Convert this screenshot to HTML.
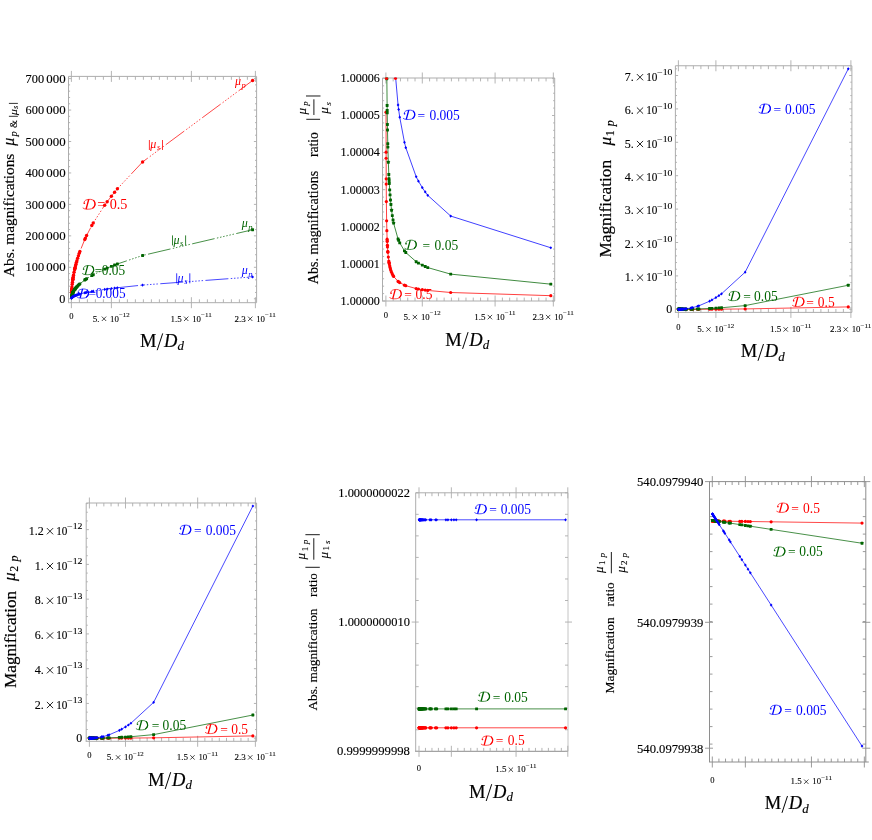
<!DOCTYPE html><html><head><meta charset="utf-8"><style>html,body{margin:0;padding:0;background:#fff}svg{display:block}</style></head><body><svg width="872" height="840" viewBox="0 0 872 840" style="will-change:transform">
<rect width="872" height="840" fill="#fff"/>
<path d="M68.5 76.4H256.6M68.5 76.4V302.7" stroke="#adadad" stroke-width="1" fill="none"/>
<path d="M68.0 302.7H256.6" stroke="#adadad" stroke-width="1" fill="none"/>
<path d="M256.6 76.4V302.7" stroke="#adadad" stroke-width="1" fill="none"/>
<path d="M71.40 70.9V81.9M71.40 297.2V308.2M79.40 76.4V79.80000000000001M79.40 299.3V302.7M87.40 76.4V79.80000000000001M87.40 299.3V302.7M95.40 76.4V79.80000000000001M95.40 299.3V302.7M103.40 76.4V79.80000000000001M103.40 299.3V302.7M111.40 70.9V81.9M111.40 297.2V308.2M119.40 76.4V79.80000000000001M119.40 299.3V302.7M127.40 76.4V79.80000000000001M127.40 299.3V302.7M135.40 76.4V79.80000000000001M135.40 299.3V302.7M143.40 76.4V79.80000000000001M143.40 299.3V302.7M151.40 76.4V79.80000000000001M151.40 299.3V302.7M159.40 76.4V79.80000000000001M159.40 299.3V302.7M167.40 76.4V79.80000000000001M167.40 299.3V302.7M175.40 76.4V79.80000000000001M175.40 299.3V302.7M183.40 76.4V79.80000000000001M183.40 299.3V302.7M191.40 70.9V81.9M191.40 297.2V308.2M199.40 76.4V79.80000000000001M199.40 299.3V302.7M207.40 76.4V79.80000000000001M207.40 299.3V302.7M215.40 76.4V79.80000000000001M215.40 299.3V302.7M223.40 76.4V79.80000000000001M223.40 299.3V302.7M231.40 76.4V79.80000000000001M231.40 299.3V302.7M239.40 76.4V79.80000000000001M239.40 299.3V302.7M247.40 76.4V79.80000000000001M247.40 299.3V302.7M255.40 70.9V81.9M255.40 297.2V308.2M68.5 298.75H71.2M253.90000000000003 298.75H256.6M68.5 267.30H71.2M253.90000000000003 267.30H256.6M68.5 235.85H71.2M253.90000000000003 235.85H256.6M68.5 204.40H71.2M253.90000000000003 204.40H256.6M68.5 172.95H71.2M253.90000000000003 172.95H256.6M68.5 141.50H71.2M253.90000000000003 141.50H256.6M68.5 110.05H71.2M253.90000000000003 110.05H256.6M68.5 78.60H71.2M253.90000000000003 78.60H256.6M68.5 292.46H70.1M255.00000000000003 292.46H256.6M68.5 286.17H70.1M255.00000000000003 286.17H256.6M68.5 279.88H70.1M255.00000000000003 279.88H256.6M68.5 273.59H70.1M255.00000000000003 273.59H256.6M68.5 261.01H70.1M255.00000000000003 261.01H256.6M68.5 254.72H70.1M255.00000000000003 254.72H256.6M68.5 248.43H70.1M255.00000000000003 248.43H256.6M68.5 242.14H70.1M255.00000000000003 242.14H256.6M68.5 229.56H70.1M255.00000000000003 229.56H256.6M68.5 223.27H70.1M255.00000000000003 223.27H256.6M68.5 216.98H70.1M255.00000000000003 216.98H256.6M68.5 210.69H70.1M255.00000000000003 210.69H256.6M68.5 198.11H70.1M255.00000000000003 198.11H256.6M68.5 191.82H70.1M255.00000000000003 191.82H256.6M68.5 185.53H70.1M255.00000000000003 185.53H256.6M68.5 179.24H70.1M255.00000000000003 179.24H256.6M68.5 166.66H70.1M255.00000000000003 166.66H256.6M68.5 160.37H70.1M255.00000000000003 160.37H256.6M68.5 154.08H70.1M255.00000000000003 154.08H256.6M68.5 147.79H70.1M255.00000000000003 147.79H256.6M68.5 135.21H70.1M255.00000000000003 135.21H256.6M68.5 128.92H70.1M255.00000000000003 128.92H256.6M68.5 122.63H70.1M255.00000000000003 122.63H256.6M68.5 116.34H70.1M255.00000000000003 116.34H256.6M68.5 103.76H70.1M255.00000000000003 103.76H256.6M68.5 97.47H70.1M255.00000000000003 97.47H256.6M68.5 91.18H70.1M255.00000000000003 91.18H256.6M68.5 84.89H70.1M255.00000000000003 84.89H256.6" stroke="#adadad" stroke-width="0.9" fill="none"/>
<clipPath id="c1"><rect x="68.1" y="76.0" width="188.90000000000003" height="227.1"/></clipPath>
<g clip-path="url(#c1)">
<path d="M71.54 292.60L71.63 290.94L71.65 290.61L71.74 289.24L71.78 288.81L71.92 287.06L72.20 284.25L72.44 282.21L72.74 279.95L72.82 279.46L72.85 279.21L73.05 277.93L73.16 277.26L73.48 275.39L73.57 274.88L74.07 272.27L74.61 269.71L74.84 268.68L74.96 268.16L75.12 267.48L75.56 265.68L75.96 264.13L76.44 262.35L76.92 260.65L77.64 258.25L78.44 255.73L79.24 253.35L79.88 251.53L84.76 239.48L85.40 238.08L86.60 235.53L91.80 225.52L93.24 222.97L104.68 205.21L107.16 201.79L111.40 196.20L114.60 192.18L117.40 188.78L142.60 161.93L252.60 80.49" fill="none" stroke="#ff0000" stroke-width="0.72" stroke-linejoin="round" stroke-dasharray="23 2.4 1.5 1.7 1.5 1.7 1.5 1.7 1.5 1.7 1.5 1.7 1.5 2.4"/>
<circle cx="71.54" cy="292.60" r="1.70" fill="#ff0000"/><circle cx="71.63" cy="290.94" r="1.70" fill="#ff0000"/><circle cx="71.65" cy="290.61" r="1.70" fill="#ff0000"/><circle cx="71.74" cy="289.24" r="1.70" fill="#ff0000"/><circle cx="71.78" cy="288.81" r="1.70" fill="#ff0000"/><circle cx="71.92" cy="287.06" r="1.70" fill="#ff0000"/><circle cx="72.20" cy="284.25" r="1.70" fill="#ff0000"/><circle cx="72.44" cy="282.21" r="1.70" fill="#ff0000"/><circle cx="72.74" cy="279.95" r="1.70" fill="#ff0000"/><circle cx="72.82" cy="279.46" r="1.70" fill="#ff0000"/><circle cx="72.85" cy="279.21" r="1.70" fill="#ff0000"/><circle cx="73.05" cy="277.93" r="1.70" fill="#ff0000"/><circle cx="73.16" cy="277.26" r="1.70" fill="#ff0000"/><circle cx="73.48" cy="275.39" r="1.70" fill="#ff0000"/><circle cx="73.57" cy="274.88" r="1.70" fill="#ff0000"/><circle cx="74.07" cy="272.27" r="1.70" fill="#ff0000"/><circle cx="74.61" cy="269.71" r="1.70" fill="#ff0000"/><circle cx="74.84" cy="268.68" r="1.70" fill="#ff0000"/><circle cx="74.96" cy="268.16" r="1.70" fill="#ff0000"/><circle cx="75.12" cy="267.48" r="1.70" fill="#ff0000"/><circle cx="75.56" cy="265.68" r="1.70" fill="#ff0000"/><circle cx="75.96" cy="264.13" r="1.70" fill="#ff0000"/><circle cx="76.44" cy="262.35" r="1.70" fill="#ff0000"/><circle cx="76.92" cy="260.65" r="1.70" fill="#ff0000"/><circle cx="77.64" cy="258.25" r="1.70" fill="#ff0000"/><circle cx="78.44" cy="255.73" r="1.70" fill="#ff0000"/><circle cx="79.24" cy="253.35" r="1.70" fill="#ff0000"/><circle cx="79.88" cy="251.53" r="1.70" fill="#ff0000"/><circle cx="84.76" cy="239.48" r="1.70" fill="#ff0000"/><circle cx="85.40" cy="238.08" r="1.70" fill="#ff0000"/><circle cx="86.60" cy="235.53" r="1.70" fill="#ff0000"/><circle cx="91.80" cy="225.52" r="1.70" fill="#ff0000"/><circle cx="93.24" cy="222.97" r="1.70" fill="#ff0000"/><circle cx="104.68" cy="205.21" r="1.70" fill="#ff0000"/><circle cx="107.16" cy="201.79" r="1.70" fill="#ff0000"/><circle cx="111.40" cy="196.20" r="1.70" fill="#ff0000"/><circle cx="114.60" cy="192.18" r="1.70" fill="#ff0000"/><circle cx="117.40" cy="188.78" r="1.70" fill="#ff0000"/><circle cx="142.60" cy="161.93" r="1.70" fill="#ff0000"/><circle cx="252.60" cy="80.49" r="1.70" fill="#ff0000"/>
<path d="M71.54 296.80L71.63 296.28L71.65 296.18L71.74 295.74L71.78 295.61L71.92 295.05L72.20 294.16L72.44 293.52L72.74 292.81L72.82 292.65L72.85 292.57L73.05 292.17L73.16 291.96L73.48 291.36L73.57 291.20L74.07 290.37L74.61 289.57L74.84 289.24L74.96 289.08L75.12 288.86L75.56 288.29L75.96 287.80L76.44 287.24L76.92 286.70L77.64 285.94L78.44 285.15L79.24 284.39L79.88 283.82L84.76 280.01L85.40 279.56L86.60 278.76L91.80 275.59L93.24 274.79L104.68 269.17L107.16 268.09L111.40 266.32L114.60 265.05L117.40 263.97L142.60 255.48L252.60 229.73" fill="none" stroke="#006400" stroke-width="0.72" stroke-linejoin="round" stroke-dasharray="23 2.4 1.5 1.7 1.5 1.7 1.5 1.7 1.5 1.7 1.5 1.7 1.5 2.4"/>
<rect x="70.10" y="295.36" width="2.88" height="2.88" rx="0.4" fill="#006400"/><rect x="70.19" y="294.84" width="2.88" height="2.88" rx="0.4" fill="#006400"/><rect x="70.21" y="294.74" width="2.88" height="2.88" rx="0.4" fill="#006400"/><rect x="70.30" y="294.30" width="2.88" height="2.88" rx="0.4" fill="#006400"/><rect x="70.34" y="294.17" width="2.88" height="2.88" rx="0.4" fill="#006400"/><rect x="70.48" y="293.61" width="2.88" height="2.88" rx="0.4" fill="#006400"/><rect x="70.76" y="292.72" width="2.88" height="2.88" rx="0.4" fill="#006400"/><rect x="71.00" y="292.08" width="2.88" height="2.88" rx="0.4" fill="#006400"/><rect x="71.30" y="291.37" width="2.88" height="2.88" rx="0.4" fill="#006400"/><rect x="71.38" y="291.21" width="2.88" height="2.88" rx="0.4" fill="#006400"/><rect x="71.41" y="291.13" width="2.88" height="2.88" rx="0.4" fill="#006400"/><rect x="71.61" y="290.73" width="2.88" height="2.88" rx="0.4" fill="#006400"/><rect x="71.72" y="290.52" width="2.88" height="2.88" rx="0.4" fill="#006400"/><rect x="72.04" y="289.92" width="2.88" height="2.88" rx="0.4" fill="#006400"/><rect x="72.13" y="289.76" width="2.88" height="2.88" rx="0.4" fill="#006400"/><rect x="72.63" y="288.93" width="2.88" height="2.88" rx="0.4" fill="#006400"/><rect x="73.17" y="288.13" width="2.88" height="2.88" rx="0.4" fill="#006400"/><rect x="73.40" y="287.80" width="2.88" height="2.88" rx="0.4" fill="#006400"/><rect x="73.52" y="287.64" width="2.88" height="2.88" rx="0.4" fill="#006400"/><rect x="73.68" y="287.42" width="2.88" height="2.88" rx="0.4" fill="#006400"/><rect x="74.12" y="286.85" width="2.88" height="2.88" rx="0.4" fill="#006400"/><rect x="74.52" y="286.36" width="2.88" height="2.88" rx="0.4" fill="#006400"/><rect x="75.00" y="285.80" width="2.88" height="2.88" rx="0.4" fill="#006400"/><rect x="75.48" y="285.26" width="2.88" height="2.88" rx="0.4" fill="#006400"/><rect x="76.20" y="284.50" width="2.88" height="2.88" rx="0.4" fill="#006400"/><rect x="77.00" y="283.71" width="2.88" height="2.88" rx="0.4" fill="#006400"/><rect x="77.80" y="282.95" width="2.88" height="2.88" rx="0.4" fill="#006400"/><rect x="78.44" y="282.38" width="2.88" height="2.88" rx="0.4" fill="#006400"/><rect x="83.32" y="278.57" width="2.88" height="2.88" rx="0.4" fill="#006400"/><rect x="83.96" y="278.12" width="2.88" height="2.88" rx="0.4" fill="#006400"/><rect x="85.16" y="277.32" width="2.88" height="2.88" rx="0.4" fill="#006400"/><rect x="90.36" y="274.15" width="2.88" height="2.88" rx="0.4" fill="#006400"/><rect x="91.80" y="273.35" width="2.88" height="2.88" rx="0.4" fill="#006400"/><rect x="103.24" y="267.73" width="2.88" height="2.88" rx="0.4" fill="#006400"/><rect x="105.72" y="266.65" width="2.88" height="2.88" rx="0.4" fill="#006400"/><rect x="109.96" y="264.88" width="2.88" height="2.88" rx="0.4" fill="#006400"/><rect x="113.16" y="263.61" width="2.88" height="2.88" rx="0.4" fill="#006400"/><rect x="115.96" y="262.53" width="2.88" height="2.88" rx="0.4" fill="#006400"/><rect x="141.16" y="254.04" width="2.88" height="2.88" rx="0.4" fill="#006400"/><rect x="251.16" y="228.29" width="2.88" height="2.88" rx="0.4" fill="#006400"/>
<path d="M71.54 298.13L71.63 297.97L71.65 297.94L71.74 297.80L71.78 297.76L71.92 297.58L72.20 297.30L72.44 297.10L72.74 296.87L72.82 296.82L72.85 296.80L73.05 296.67L73.16 296.60L73.48 296.41L73.57 296.36L74.07 296.10L74.61 295.85L74.84 295.74L74.96 295.69L75.12 295.62L75.56 295.44L75.96 295.29L76.44 295.11L76.92 294.94L77.64 294.70L78.44 294.45L79.24 294.21L79.88 294.03L84.76 292.82L85.40 292.68L86.60 292.43L91.80 291.43L93.24 291.17L104.68 289.40L107.16 289.05L111.40 288.50L114.60 288.09L117.40 287.75L142.60 285.07L252.60 276.92" fill="none" stroke="#0000ff" stroke-width="0.72" stroke-linejoin="round" stroke-dasharray="23 2.4 1.5 1.7 1.5 1.7 1.5 1.7 1.5 1.7 1.5 1.7 1.5 2.4"/>
<path d="M71.54 296.52L72.91 298.13L71.54 299.74L70.18 298.13Z" fill="#0000ff"/><path d="M71.63 296.36L73.00 297.97L71.63 299.58L70.26 297.97Z" fill="#0000ff"/><path d="M71.65 296.33L73.02 297.94L71.65 299.55L70.28 297.94Z" fill="#0000ff"/><path d="M71.74 296.19L73.11 297.80L71.74 299.41L70.38 297.80Z" fill="#0000ff"/><path d="M71.78 296.15L73.14 297.76L71.78 299.37L70.41 297.76Z" fill="#0000ff"/><path d="M71.92 295.97L73.29 297.58L71.92 299.19L70.55 297.58Z" fill="#0000ff"/><path d="M72.20 295.69L73.57 297.30L72.20 298.91L70.83 297.30Z" fill="#0000ff"/><path d="M72.44 295.49L73.81 297.10L72.44 298.71L71.07 297.10Z" fill="#0000ff"/><path d="M72.74 295.26L74.11 296.87L72.74 298.48L71.38 296.87Z" fill="#0000ff"/><path d="M72.82 295.21L74.18 296.82L72.82 298.43L71.45 296.82Z" fill="#0000ff"/><path d="M72.85 295.19L74.22 296.80L72.85 298.41L71.48 296.80Z" fill="#0000ff"/><path d="M73.05 295.06L74.42 296.67L73.05 298.28L71.68 296.67Z" fill="#0000ff"/><path d="M73.16 294.99L74.52 296.60L73.16 298.21L71.79 296.60Z" fill="#0000ff"/><path d="M73.48 294.80L74.84 296.41L73.48 298.02L72.11 296.41Z" fill="#0000ff"/><path d="M73.57 294.75L74.94 296.36L73.57 297.97L72.20 296.36Z" fill="#0000ff"/><path d="M74.07 294.49L75.44 296.10L74.07 297.71L72.70 296.10Z" fill="#0000ff"/><path d="M74.61 294.24L75.98 295.85L74.61 297.46L73.24 295.85Z" fill="#0000ff"/><path d="M74.84 294.13L76.21 295.74L74.84 297.35L73.47 295.74Z" fill="#0000ff"/><path d="M74.96 294.08L76.33 295.69L74.96 297.30L73.59 295.69Z" fill="#0000ff"/><path d="M75.12 294.01L76.49 295.62L75.12 297.23L73.75 295.62Z" fill="#0000ff"/><path d="M75.56 293.83L76.93 295.44L75.56 297.05L74.19 295.44Z" fill="#0000ff"/><path d="M75.96 293.68L77.33 295.29L75.96 296.90L74.59 295.29Z" fill="#0000ff"/><path d="M76.44 293.50L77.81 295.11L76.44 296.72L75.07 295.11Z" fill="#0000ff"/><path d="M76.92 293.33L78.29 294.94L76.92 296.55L75.55 294.94Z" fill="#0000ff"/><path d="M77.64 293.09L79.01 294.70L77.64 296.31L76.27 294.70Z" fill="#0000ff"/><path d="M78.44 292.84L79.81 294.45L78.44 296.06L77.07 294.45Z" fill="#0000ff"/><path d="M79.24 292.60L80.61 294.21L79.24 295.82L77.87 294.21Z" fill="#0000ff"/><path d="M79.88 292.42L81.25 294.03L79.88 295.64L78.51 294.03Z" fill="#0000ff"/><path d="M84.76 291.21L86.13 292.82L84.76 294.43L83.39 292.82Z" fill="#0000ff"/><path d="M85.40 291.07L86.77 292.68L85.40 294.29L84.03 292.68Z" fill="#0000ff"/><path d="M86.60 290.82L87.97 292.43L86.60 294.04L85.23 292.43Z" fill="#0000ff"/><path d="M91.80 289.82L93.17 291.43L91.80 293.04L90.43 291.43Z" fill="#0000ff"/><path d="M93.24 289.56L94.61 291.17L93.24 292.78L91.87 291.17Z" fill="#0000ff"/><path d="M104.68 287.79L106.05 289.40L104.68 291.01L103.31 289.40Z" fill="#0000ff"/><path d="M107.16 287.44L108.53 289.05L107.16 290.66L105.79 289.05Z" fill="#0000ff"/><path d="M111.40 286.89L112.77 288.50L111.40 290.11L110.03 288.50Z" fill="#0000ff"/><path d="M114.60 286.48L115.97 288.09L114.60 289.70L113.23 288.09Z" fill="#0000ff"/><path d="M117.40 286.14L118.77 287.75L117.40 289.36L116.03 287.75Z" fill="#0000ff"/><path d="M142.60 283.46L143.97 285.07L142.60 286.68L141.23 285.07Z" fill="#0000ff"/><path d="M252.60 275.31L253.97 276.92L252.60 278.53L251.23 276.92Z" fill="#0000ff"/>
</g>
<text x="65.30" y="302.85" font-size="12.2" text-anchor="end" fill="#000" stroke="#000" stroke-width="0.134" font-family="Liberation Serif, serif">0</text>
<text x="65.60" y="271.40" font-size="12.2" text-anchor="end" fill="#000" stroke="#000" stroke-width="0.134" font-family="Liberation Serif, serif" textLength="19.30" lengthAdjust="spacingAndGlyphs">000</text>
<text x="44.10" y="271.40" font-size="12.2" text-anchor="end" fill="#000" stroke="#000" stroke-width="0.134" font-family="Liberation Serif, serif" textLength="18.50" lengthAdjust="spacingAndGlyphs">100</text>
<text x="65.60" y="239.95" font-size="12.2" text-anchor="end" fill="#000" stroke="#000" stroke-width="0.134" font-family="Liberation Serif, serif" textLength="19.30" lengthAdjust="spacingAndGlyphs">000</text>
<text x="44.10" y="239.95" font-size="12.2" text-anchor="end" fill="#000" stroke="#000" stroke-width="0.134" font-family="Liberation Serif, serif" textLength="18.50" lengthAdjust="spacingAndGlyphs">200</text>
<text x="65.60" y="208.50" font-size="12.2" text-anchor="end" fill="#000" stroke="#000" stroke-width="0.134" font-family="Liberation Serif, serif" textLength="19.30" lengthAdjust="spacingAndGlyphs">000</text>
<text x="44.10" y="208.50" font-size="12.2" text-anchor="end" fill="#000" stroke="#000" stroke-width="0.134" font-family="Liberation Serif, serif" textLength="18.50" lengthAdjust="spacingAndGlyphs">300</text>
<text x="65.60" y="177.05" font-size="12.2" text-anchor="end" fill="#000" stroke="#000" stroke-width="0.134" font-family="Liberation Serif, serif" textLength="19.30" lengthAdjust="spacingAndGlyphs">000</text>
<text x="44.10" y="177.05" font-size="12.2" text-anchor="end" fill="#000" stroke="#000" stroke-width="0.134" font-family="Liberation Serif, serif" textLength="18.50" lengthAdjust="spacingAndGlyphs">400</text>
<text x="65.60" y="145.60" font-size="12.2" text-anchor="end" fill="#000" stroke="#000" stroke-width="0.134" font-family="Liberation Serif, serif" textLength="19.30" lengthAdjust="spacingAndGlyphs">000</text>
<text x="44.10" y="145.60" font-size="12.2" text-anchor="end" fill="#000" stroke="#000" stroke-width="0.134" font-family="Liberation Serif, serif" textLength="18.50" lengthAdjust="spacingAndGlyphs">500</text>
<text x="65.60" y="114.15" font-size="12.2" text-anchor="end" fill="#000" stroke="#000" stroke-width="0.134" font-family="Liberation Serif, serif" textLength="19.30" lengthAdjust="spacingAndGlyphs">000</text>
<text x="44.10" y="114.15" font-size="12.2" text-anchor="end" fill="#000" stroke="#000" stroke-width="0.134" font-family="Liberation Serif, serif" textLength="18.50" lengthAdjust="spacingAndGlyphs">600</text>
<text x="65.60" y="82.70" font-size="12.2" text-anchor="end" fill="#000" stroke="#000" stroke-width="0.134" font-family="Liberation Serif, serif" textLength="19.30" lengthAdjust="spacingAndGlyphs">000</text>
<text x="44.10" y="82.70" font-size="12.2" text-anchor="end" fill="#000" stroke="#000" stroke-width="0.134" font-family="Liberation Serif, serif" textLength="18.50" lengthAdjust="spacingAndGlyphs">700</text>
<text x="71.40" y="319.40" font-size="8.549999999999999" text-anchor="middle" fill="#000" stroke="#000" stroke-width="0.094" font-family="Liberation Serif, serif">0</text><text x="92.70" y="321.50" font-size="9.0" text-anchor="start" fill="#000" stroke="#000" stroke-width="0.099" font-family="Liberation Serif, serif">5.</text><path d="M101.80 316.60L106.20 321.00M101.80 321.00L106.20 316.60" stroke="#000" stroke-width="0.7" fill="none"/><text x="110.00" y="321.50" font-size="9.0" text-anchor="start" fill="#000" stroke="#000" stroke-width="0.099" font-family="Liberation Serif, serif" textLength="8.80" lengthAdjust="spacingAndGlyphs">10</text><text x="118.90" y="317.10" font-size="6.4799999999999995" text-anchor="start" fill="#000" stroke="#000" stroke-width="0.071" font-family="Liberation Serif, serif" textLength="10.80" lengthAdjust="spacingAndGlyphs">−12</text><text x="170.50" y="321.50" font-size="9.0" text-anchor="start" fill="#000" stroke="#000" stroke-width="0.099" font-family="Liberation Serif, serif">1.5</text><path d="M184.00 316.60L188.40 321.00M184.00 321.00L188.40 316.60" stroke="#000" stroke-width="0.7" fill="none"/><text x="192.20" y="321.50" font-size="9.0" text-anchor="start" fill="#000" stroke="#000" stroke-width="0.099" font-family="Liberation Serif, serif" textLength="8.80" lengthAdjust="spacingAndGlyphs">10</text><text x="201.10" y="317.10" font-size="6.4799999999999995" text-anchor="start" fill="#000" stroke="#000" stroke-width="0.071" font-family="Liberation Serif, serif" textLength="10.80" lengthAdjust="spacingAndGlyphs">−11</text><text x="234.50" y="321.50" font-size="9.0" text-anchor="start" fill="#000" stroke="#000" stroke-width="0.099" font-family="Liberation Serif, serif">2.3</text><path d="M248.00 316.60L252.40 321.00M248.00 321.00L252.40 316.60" stroke="#000" stroke-width="0.7" fill="none"/><text x="256.20" y="321.50" font-size="9.0" text-anchor="start" fill="#000" stroke="#000" stroke-width="0.099" font-family="Liberation Serif, serif" textLength="8.80" lengthAdjust="spacingAndGlyphs">10</text><text x="265.10" y="317.10" font-size="6.4799999999999995" text-anchor="start" fill="#000" stroke="#000" stroke-width="0.071" font-family="Liberation Serif, serif" textLength="10.80" lengthAdjust="spacingAndGlyphs">−11</text>
<text x="139.90" y="346.80" font-size="18.5" text-anchor="start" fill="#000" stroke="#000" stroke-width="0.203" font-family="Liberation Serif, serif">M</text><path d="M157.20 350.20L162.70 333.40" stroke="#000" stroke-width="1.0" fill="none"/><text x="163.90" y="346.80" font-size="18.5" text-anchor="start" fill="#000" stroke="#000" stroke-width="0.203" font-family="Liberation Serif, serif" font-style="italic">D</text><text x="177.40" y="349.90" font-size="12.9" text-anchor="start" fill="#000" stroke="#000" stroke-width="0.142" font-family="Liberation Serif, serif" font-style="italic">d</text>
<g transform="translate(14 277) rotate(-90)"><text x="0.00" y="0.00" font-size="15.3" text-anchor="start" fill="#000" stroke="#000" stroke-width="0.168" font-family="Liberation Serif, serif" textLength="123.30" lengthAdjust="spacingAndGlyphs">Abs. magnifications</text><text x="131.30" y="0.30" font-size="16" text-anchor="start" fill="#000" stroke="#000" stroke-width="0.176" font-family="Liberation Serif, serif" font-style="italic">μ</text><text x="140.60" y="2.80" font-size="10.5" text-anchor="start" fill="#000" stroke="#000" stroke-width="0.115" font-family="Liberation Serif, serif" font-style="italic">p</text><text x="149.00" y="2.80" font-size="10.2" text-anchor="start" fill="#000" stroke="#000" stroke-width="0.112" font-family="Liberation Serif, serif">&amp;</text><path d="M160.70 -5.10L160.70 3.90" stroke="#000" stroke-width="0.8" fill="none"/><text x="161.80" y="2.80" font-size="10" text-anchor="start" fill="#000" stroke="#000" stroke-width="0.110" font-family="Liberation Serif, serif" font-style="italic" textLength="6.20" lengthAdjust="spacingAndGlyphs">μ</text><text x="168.00" y="3.90" font-size="8.5" text-anchor="start" fill="#000" stroke="#000" stroke-width="0.093" font-family="Liberation Serif, serif" font-style="italic">s</text><path d="M173.60 -5.10L173.60 3.90" stroke="#000" stroke-width="0.8" fill="none"/></g>
<g transform="translate(83.10 209.30) scale(0.0142)" fill="none" stroke="#ff0000" stroke-linecap="round" stroke-linejoin="round"><path d="M 70 -430 C 40 -540 130 -640 264 -672 C 350 -695 440 -705 519 -700 C 680 -690 810 -600 838 -420 C 860 -280 790 -130 650 -60 C 560 -15 400 0 250 -10 C 150 -15 50 -40 -5 -85" stroke-width="52"/><path d="M 388 -668 L 222 -55" stroke-width="98"/><path d="M 745 -625 C 820 -540 850 -420 838 -330 C 825 -250 780 -160 690 -90" stroke-width="92"/><circle cx="78" cy="-425" r="28" fill="#ff0000" stroke-width="40"/></g><text x="97.25" y="209.30" font-size="14.2" text-anchor="start" fill="#ff0000" font-family="Liberation Serif, serif">=</text><text x="109.65" y="209.30" font-size="14.91" text-anchor="start" fill="#ff0000" font-family="Liberation Serif, serif" textLength="17.75" lengthAdjust="spacingAndGlyphs">0.5</text>
<g transform="translate(82.50 274.80) scale(0.0133)" fill="none" stroke="#006400" stroke-linecap="round" stroke-linejoin="round"><path d="M 70 -430 C 40 -540 130 -640 264 -672 C 350 -695 440 -705 519 -700 C 680 -690 810 -600 838 -420 C 860 -280 790 -130 650 -60 C 560 -15 400 0 250 -10 C 150 -15 50 -40 -5 -85" stroke-width="52"/><path d="M 388 -668 L 222 -55" stroke-width="98"/><path d="M 745 -625 C 820 -540 850 -420 838 -330 C 825 -250 780 -160 690 -90" stroke-width="92"/><circle cx="78" cy="-425" r="28" fill="#006400" stroke-width="40"/></g><text x="94.65" y="274.80" font-size="13.3" text-anchor="start" fill="#006400" font-family="Liberation Serif, serif">=</text><text x="101.85" y="274.80" font-size="13.965000000000002" text-anchor="start" fill="#006400" font-family="Liberation Serif, serif" textLength="23.28" lengthAdjust="spacingAndGlyphs">0.05</text>
<g transform="translate(77.30 298.30) scale(0.0133)" fill="none" stroke="#0000ff" stroke-linecap="round" stroke-linejoin="round"><path d="M 70 -430 C 40 -540 130 -640 264 -672 C 350 -695 440 -705 519 -700 C 680 -690 810 -600 838 -420 C 860 -280 790 -130 650 -60 C 560 -15 400 0 250 -10 C 150 -15 50 -40 -5 -85" stroke-width="52"/><path d="M 388 -668 L 222 -55" stroke-width="98"/><path d="M 745 -625 C 820 -540 850 -420 838 -330 C 825 -250 780 -160 690 -90" stroke-width="92"/><circle cx="78" cy="-425" r="28" fill="#0000ff" stroke-width="40"/></g><text x="88.45" y="298.30" font-size="13.3" text-anchor="start" fill="#0000ff" font-family="Liberation Serif, serif">=</text><text x="95.65" y="298.30" font-size="13.965000000000002" text-anchor="start" fill="#0000ff" font-family="Liberation Serif, serif" textLength="29.93" lengthAdjust="spacingAndGlyphs">0.005</text>
<path d="M149.40 140.00L149.40 150.00" stroke="#ff0000" stroke-width="0.8" fill="none"/><text x="150.30" y="148.40" font-size="12" text-anchor="start" fill="#ff0000" font-family="Liberation Serif, serif" font-style="italic">μ</text><text x="157.00" y="150.30" font-size="8.5" text-anchor="start" fill="#ff0000" font-family="Liberation Serif, serif" font-style="italic">s</text><path d="M162.50 140.00L162.50 150.00" stroke="#ff0000" stroke-width="0.8" fill="none"/>
<path d="M172.50 235.40L172.50 245.40" stroke="#006400" stroke-width="0.8" fill="none"/><text x="173.40" y="243.80" font-size="12" text-anchor="start" fill="#006400" font-family="Liberation Serif, serif" font-style="italic">μ</text><text x="180.10" y="245.70" font-size="8.5" text-anchor="start" fill="#006400" font-family="Liberation Serif, serif" font-style="italic">s</text><path d="M185.60 235.40L185.60 245.40" stroke="#006400" stroke-width="0.8" fill="none"/>
<path d="M176.70 273.30L176.70 283.30" stroke="#0000ff" stroke-width="0.8" fill="none"/><text x="177.60" y="281.70" font-size="12" text-anchor="start" fill="#0000ff" font-family="Liberation Serif, serif" font-style="italic">μ</text><text x="184.30" y="283.60" font-size="8.5" text-anchor="start" fill="#0000ff" font-family="Liberation Serif, serif" font-style="italic">s</text><path d="M189.80 273.30L189.80 283.30" stroke="#0000ff" stroke-width="0.8" fill="none"/>
<text x="235.10" y="85.30" font-size="12" text-anchor="start" fill="#ff0000" font-family="Liberation Serif, serif" font-style="italic">μ</text><text x="241.50" y="87.90" font-size="8.5" text-anchor="start" fill="#ff0000" font-family="Liberation Serif, serif" font-style="italic">p</text>
<text x="241.80" y="227.20" font-size="12" text-anchor="start" fill="#006400" font-family="Liberation Serif, serif" font-style="italic">μ</text><text x="248.20" y="229.80" font-size="8.5" text-anchor="start" fill="#006400" font-family="Liberation Serif, serif" font-style="italic">p</text>
<text x="241.80" y="274.10" font-size="12" text-anchor="start" fill="#0000ff" font-family="Liberation Serif, serif" font-style="italic">μ</text><text x="248.20" y="276.70" font-size="8.5" text-anchor="start" fill="#0000ff" font-family="Liberation Serif, serif" font-style="italic">p</text>
<path d="M382.5 78H554.7M382.5 78V301" stroke="#adadad" stroke-width="1" fill="none"/>
<path d="M382.0 301H554.7" stroke="#adadad" stroke-width="1" fill="none"/>
<path d="M554.7 78V301" stroke="#adadad" stroke-width="1" fill="none"/>
<path d="M385.90 72.5V83.5M385.90 295.5V306.5M393.18 78V81.4M393.18 297.6V301M400.46 78V81.4M400.46 297.6V301M407.74 78V81.4M407.74 297.6V301M415.02 78V81.4M415.02 297.6V301M422.30 72.5V83.5M422.30 295.5V306.5M429.58 78V81.4M429.58 297.6V301M436.86 78V81.4M436.86 297.6V301M444.14 78V81.4M444.14 297.6V301M451.42 78V81.4M451.42 297.6V301M458.70 78V81.4M458.70 297.6V301M465.98 78V81.4M465.98 297.6V301M473.26 78V81.4M473.26 297.6V301M480.54 78V81.4M480.54 297.6V301M487.82 78V81.4M487.82 297.6V301M495.10 72.5V83.5M495.10 295.5V306.5M502.38 78V81.4M502.38 297.6V301M509.66 78V81.4M509.66 297.6V301M516.94 78V81.4M516.94 297.6V301M524.22 78V81.4M524.22 297.6V301M531.50 78V81.4M531.50 297.6V301M538.78 78V81.4M538.78 297.6V301M546.06 78V81.4M546.06 297.6V301M553.34 72.5V83.5M553.34 295.5V306.5M382.5 301.00H385.2M552.0 301.00H554.7M382.5 263.90H385.2M552.0 263.90H554.7M382.5 226.80H385.2M552.0 226.80H554.7M382.5 189.70H385.2M552.0 189.70H554.7M382.5 152.60H385.2M552.0 152.60H554.7M382.5 115.50H385.2M552.0 115.50H554.7M382.5 78.40H385.2M552.0 78.40H554.7M382.5 293.58H384.1M553.1 293.58H554.7M382.5 286.16H384.1M553.1 286.16H554.7M382.5 278.74H384.1M553.1 278.74H554.7M382.5 271.32H384.1M553.1 271.32H554.7M382.5 256.48H384.1M553.1 256.48H554.7M382.5 249.06H384.1M553.1 249.06H554.7M382.5 241.64H384.1M553.1 241.64H554.7M382.5 234.22H384.1M553.1 234.22H554.7M382.5 219.38H384.1M553.1 219.38H554.7M382.5 211.96H384.1M553.1 211.96H554.7M382.5 204.54H384.1M553.1 204.54H554.7M382.5 197.12H384.1M553.1 197.12H554.7M382.5 182.28H384.1M553.1 182.28H554.7M382.5 174.86H384.1M553.1 174.86H554.7M382.5 167.44H384.1M553.1 167.44H554.7M382.5 160.02H384.1M553.1 160.02H554.7M382.5 145.18H384.1M553.1 145.18H554.7M382.5 137.76H384.1M553.1 137.76H554.7M382.5 130.34H384.1M553.1 130.34H554.7M382.5 122.92H384.1M553.1 122.92H554.7M382.5 108.08H384.1M553.1 108.08H554.7M382.5 100.66H384.1M553.1 100.66H554.7M382.5 93.24H384.1M553.1 93.24H554.7M382.5 85.82H384.1M553.1 85.82H554.7" stroke="#adadad" stroke-width="0.9" fill="none"/>
<clipPath id="c2"><rect x="382.1" y="77.6" width="173.00000000000006" height="223.8"/></clipPath>
<g clip-path="url(#c2)">
<path d="M386.03 112.13L386.11 152.20L386.13 158.23L386.21 178.80L386.24 184.12L386.37 201.61L386.63 220.87L386.85 230.72L387.12 239.18L387.19 240.77L387.22 241.52L387.40 245.17L387.50 246.91L387.79 251.26L387.87 252.32L388.33 257.12L388.82 260.99L389.03 262.36L389.14 263.01L389.29 263.84L389.69 265.86L390.05 267.44L390.49 269.08L390.92 270.50L391.58 272.31L392.31 273.99L393.03 275.40L393.62 276.39L398.06 281.39L398.64 281.85L399.73 282.62L404.46 285.13L405.77 285.66L416.18 288.58L418.44 289.01L422.30 289.67L425.21 290.10L427.76 290.43L450.69 292.51L550.79 295.68" fill="none" stroke="#ff0000" stroke-width="0.75" stroke-linejoin="round"/>
<circle cx="386.03" cy="112.13" r="1.60" fill="#ff0000"/><circle cx="386.11" cy="152.20" r="1.60" fill="#ff0000"/><circle cx="386.13" cy="158.23" r="1.60" fill="#ff0000"/><circle cx="386.21" cy="178.80" r="1.60" fill="#ff0000"/><circle cx="386.24" cy="184.12" r="1.60" fill="#ff0000"/><circle cx="386.37" cy="201.61" r="1.60" fill="#ff0000"/><circle cx="386.63" cy="220.87" r="1.60" fill="#ff0000"/><circle cx="386.85" cy="230.72" r="1.60" fill="#ff0000"/><circle cx="387.12" cy="239.18" r="1.60" fill="#ff0000"/><circle cx="387.19" cy="240.77" r="1.60" fill="#ff0000"/><circle cx="387.22" cy="241.52" r="1.60" fill="#ff0000"/><circle cx="387.40" cy="245.17" r="1.60" fill="#ff0000"/><circle cx="387.50" cy="246.91" r="1.60" fill="#ff0000"/><circle cx="387.79" cy="251.26" r="1.60" fill="#ff0000"/><circle cx="387.87" cy="252.32" r="1.60" fill="#ff0000"/><circle cx="388.33" cy="257.12" r="1.60" fill="#ff0000"/><circle cx="388.82" cy="260.99" r="1.60" fill="#ff0000"/><circle cx="389.03" cy="262.36" r="1.60" fill="#ff0000"/><circle cx="389.14" cy="263.01" r="1.60" fill="#ff0000"/><circle cx="389.29" cy="263.84" r="1.60" fill="#ff0000"/><circle cx="389.69" cy="265.86" r="1.60" fill="#ff0000"/><circle cx="390.05" cy="267.44" r="1.60" fill="#ff0000"/><circle cx="390.49" cy="269.08" r="1.60" fill="#ff0000"/><circle cx="390.92" cy="270.50" r="1.60" fill="#ff0000"/><circle cx="391.58" cy="272.31" r="1.60" fill="#ff0000"/><circle cx="392.31" cy="273.99" r="1.60" fill="#ff0000"/><circle cx="393.03" cy="275.40" r="1.60" fill="#ff0000"/><circle cx="393.62" cy="276.39" r="1.60" fill="#ff0000"/><circle cx="398.06" cy="281.39" r="1.60" fill="#ff0000"/><circle cx="398.64" cy="281.85" r="1.60" fill="#ff0000"/><circle cx="399.73" cy="282.62" r="1.60" fill="#ff0000"/><circle cx="404.46" cy="285.13" r="1.60" fill="#ff0000"/><circle cx="405.77" cy="285.66" r="1.60" fill="#ff0000"/><circle cx="416.18" cy="288.58" r="1.60" fill="#ff0000"/><circle cx="418.44" cy="289.01" r="1.60" fill="#ff0000"/><circle cx="422.30" cy="289.67" r="1.60" fill="#ff0000"/><circle cx="425.21" cy="290.10" r="1.60" fill="#ff0000"/><circle cx="427.76" cy="290.43" r="1.60" fill="#ff0000"/><circle cx="450.69" cy="292.51" r="1.60" fill="#ff0000"/><circle cx="550.79" cy="295.68" r="1.60" fill="#ff0000"/>
<path d="M386.63 47.61L386.85 78.76L387.12 105.50L387.19 110.54L387.22 112.91L387.40 124.45L387.50 129.97L387.79 143.70L387.87 147.07L388.33 162.25L388.82 174.46L389.03 178.80L389.14 180.88L389.29 183.49L389.69 189.88L390.05 194.87L390.49 200.05L390.92 204.53L391.58 210.27L392.31 215.58L393.03 220.06L393.62 223.17L398.06 238.99L398.64 240.43L399.73 242.87L404.46 250.82L405.77 252.50L416.18 261.71L418.44 263.10L422.30 265.16L425.21 266.52L427.76 267.58L450.69 274.14L550.79 284.16" fill="none" stroke="#006400" stroke-width="0.75" stroke-linejoin="round"/>
<rect x="385.19" y="46.17" width="2.88" height="2.88" rx="0.4" fill="#006400"/><rect x="385.41" y="77.32" width="2.88" height="2.88" rx="0.4" fill="#006400"/><rect x="385.68" y="104.06" width="2.88" height="2.88" rx="0.4" fill="#006400"/><rect x="385.75" y="109.10" width="2.88" height="2.88" rx="0.4" fill="#006400"/><rect x="385.78" y="111.47" width="2.88" height="2.88" rx="0.4" fill="#006400"/><rect x="385.96" y="123.01" width="2.88" height="2.88" rx="0.4" fill="#006400"/><rect x="386.06" y="128.53" width="2.88" height="2.88" rx="0.4" fill="#006400"/><rect x="386.35" y="142.26" width="2.88" height="2.88" rx="0.4" fill="#006400"/><rect x="386.43" y="145.63" width="2.88" height="2.88" rx="0.4" fill="#006400"/><rect x="386.89" y="160.81" width="2.88" height="2.88" rx="0.4" fill="#006400"/><rect x="387.38" y="173.02" width="2.88" height="2.88" rx="0.4" fill="#006400"/><rect x="387.59" y="177.36" width="2.88" height="2.88" rx="0.4" fill="#006400"/><rect x="387.70" y="179.44" width="2.88" height="2.88" rx="0.4" fill="#006400"/><rect x="387.85" y="182.05" width="2.88" height="2.88" rx="0.4" fill="#006400"/><rect x="388.25" y="188.44" width="2.88" height="2.88" rx="0.4" fill="#006400"/><rect x="388.61" y="193.43" width="2.88" height="2.88" rx="0.4" fill="#006400"/><rect x="389.05" y="198.61" width="2.88" height="2.88" rx="0.4" fill="#006400"/><rect x="389.48" y="203.09" width="2.88" height="2.88" rx="0.4" fill="#006400"/><rect x="390.14" y="208.83" width="2.88" height="2.88" rx="0.4" fill="#006400"/><rect x="390.87" y="214.14" width="2.88" height="2.88" rx="0.4" fill="#006400"/><rect x="391.59" y="218.62" width="2.88" height="2.88" rx="0.4" fill="#006400"/><rect x="392.18" y="221.73" width="2.88" height="2.88" rx="0.4" fill="#006400"/><rect x="396.62" y="237.55" width="2.88" height="2.88" rx="0.4" fill="#006400"/><rect x="397.20" y="238.99" width="2.88" height="2.88" rx="0.4" fill="#006400"/><rect x="398.29" y="241.43" width="2.88" height="2.88" rx="0.4" fill="#006400"/><rect x="403.02" y="249.38" width="2.88" height="2.88" rx="0.4" fill="#006400"/><rect x="404.33" y="251.06" width="2.88" height="2.88" rx="0.4" fill="#006400"/><rect x="414.74" y="260.27" width="2.88" height="2.88" rx="0.4" fill="#006400"/><rect x="417.00" y="261.66" width="2.88" height="2.88" rx="0.4" fill="#006400"/><rect x="420.86" y="263.72" width="2.88" height="2.88" rx="0.4" fill="#006400"/><rect x="423.77" y="265.08" width="2.88" height="2.88" rx="0.4" fill="#006400"/><rect x="426.32" y="266.14" width="2.88" height="2.88" rx="0.4" fill="#006400"/><rect x="449.25" y="272.70" width="2.88" height="2.88" rx="0.4" fill="#006400"/><rect x="549.35" y="282.72" width="2.88" height="2.88" rx="0.4" fill="#006400"/>
<path d="M393.62 54.88L398.06 104.92L398.64 109.45L399.73 117.17L404.46 142.32L405.77 147.64L416.18 176.76L418.44 181.15L422.30 187.68L425.21 191.96L427.76 195.33L450.69 216.06L550.79 247.76" fill="none" stroke="#0000ff" stroke-width="0.75" stroke-linejoin="round"/>
<path d="M393.62 53.27L394.99 54.88L393.62 56.49L392.25 54.88Z" fill="#0000ff"/><path d="M398.06 103.31L399.43 104.92L398.06 106.53L396.69 104.92Z" fill="#0000ff"/><path d="M398.64 107.84L400.01 109.45L398.64 111.06L397.27 109.45Z" fill="#0000ff"/><path d="M399.73 115.56L401.10 117.17L399.73 118.78L398.36 117.17Z" fill="#0000ff"/><path d="M404.46 140.71L405.83 142.32L404.46 143.93L403.10 142.32Z" fill="#0000ff"/><path d="M405.77 146.03L407.14 147.64L405.77 149.25L404.41 147.64Z" fill="#0000ff"/><path d="M416.18 175.15L417.55 176.76L416.18 178.37L414.82 176.76Z" fill="#0000ff"/><path d="M418.44 179.54L419.81 181.15L418.44 182.76L417.07 181.15Z" fill="#0000ff"/><path d="M422.30 186.07L423.67 187.68L422.30 189.29L420.93 187.68Z" fill="#0000ff"/><path d="M425.21 190.35L426.58 191.96L425.21 193.57L423.84 191.96Z" fill="#0000ff"/><path d="M427.76 193.72L429.13 195.33L427.76 196.94L426.39 195.33Z" fill="#0000ff"/><path d="M450.69 214.45L452.06 216.06L450.69 217.67L449.32 216.06Z" fill="#0000ff"/><path d="M550.79 246.15L552.16 247.76L550.79 249.37L549.42 247.76Z" fill="#0000ff"/>
<circle cx="386.50" cy="78.30" r="1.60" fill="#ff0000"/><circle cx="395.50" cy="78.30" r="1.60" fill="#ff0000"/>
</g>
<text x="379.80" y="304.80" font-size="12" text-anchor="end" fill="#000" stroke="#000" stroke-width="0.132" font-family="Liberation Serif, serif" textLength="39.20" lengthAdjust="spacingAndGlyphs">1.00000</text>
<text x="379.80" y="267.70" font-size="12" text-anchor="end" fill="#000" stroke="#000" stroke-width="0.132" font-family="Liberation Serif, serif" textLength="39.20" lengthAdjust="spacingAndGlyphs">1.00001</text>
<text x="379.80" y="230.60" font-size="12" text-anchor="end" fill="#000" stroke="#000" stroke-width="0.132" font-family="Liberation Serif, serif" textLength="39.20" lengthAdjust="spacingAndGlyphs">1.00002</text>
<text x="379.80" y="193.50" font-size="12" text-anchor="end" fill="#000" stroke="#000" stroke-width="0.132" font-family="Liberation Serif, serif" textLength="39.20" lengthAdjust="spacingAndGlyphs">1.00003</text>
<text x="379.80" y="156.40" font-size="12" text-anchor="end" fill="#000" stroke="#000" stroke-width="0.132" font-family="Liberation Serif, serif" textLength="39.20" lengthAdjust="spacingAndGlyphs">1.00004</text>
<text x="379.80" y="119.30" font-size="12" text-anchor="end" fill="#000" stroke="#000" stroke-width="0.132" font-family="Liberation Serif, serif" textLength="39.20" lengthAdjust="spacingAndGlyphs">1.00005</text>
<text x="379.80" y="82.20" font-size="12" text-anchor="end" fill="#000" stroke="#000" stroke-width="0.132" font-family="Liberation Serif, serif" textLength="39.20" lengthAdjust="spacingAndGlyphs">1.00006</text>
<text x="385.90" y="317.70" font-size="8.549999999999999" text-anchor="middle" fill="#000" stroke="#000" stroke-width="0.094" font-family="Liberation Serif, serif">0</text><text x="403.60" y="319.80" font-size="9.0" text-anchor="start" fill="#000" stroke="#000" stroke-width="0.099" font-family="Liberation Serif, serif">5.</text><path d="M412.70 314.90L417.10 319.30M412.70 319.30L417.10 314.90" stroke="#000" stroke-width="0.7" fill="none"/><text x="420.90" y="319.80" font-size="9.0" text-anchor="start" fill="#000" stroke="#000" stroke-width="0.099" font-family="Liberation Serif, serif" textLength="8.80" lengthAdjust="spacingAndGlyphs">10</text><text x="429.80" y="315.40" font-size="6.4799999999999995" text-anchor="start" fill="#000" stroke="#000" stroke-width="0.071" font-family="Liberation Serif, serif" textLength="10.80" lengthAdjust="spacingAndGlyphs">−12</text><text x="474.20" y="319.80" font-size="9.0" text-anchor="start" fill="#000" stroke="#000" stroke-width="0.099" font-family="Liberation Serif, serif">1.5</text><path d="M487.70 314.90L492.10 319.30M487.70 319.30L492.10 314.90" stroke="#000" stroke-width="0.7" fill="none"/><text x="495.90" y="319.80" font-size="9.0" text-anchor="start" fill="#000" stroke="#000" stroke-width="0.099" font-family="Liberation Serif, serif" textLength="8.80" lengthAdjust="spacingAndGlyphs">10</text><text x="504.80" y="315.40" font-size="6.4799999999999995" text-anchor="start" fill="#000" stroke="#000" stroke-width="0.071" font-family="Liberation Serif, serif" textLength="10.80" lengthAdjust="spacingAndGlyphs">−11</text><text x="532.44" y="319.80" font-size="9.0" text-anchor="start" fill="#000" stroke="#000" stroke-width="0.099" font-family="Liberation Serif, serif">2.3</text><path d="M545.94 314.90L550.34 319.30M545.94 319.30L550.34 314.90" stroke="#000" stroke-width="0.7" fill="none"/><text x="554.14" y="319.80" font-size="9.0" text-anchor="start" fill="#000" stroke="#000" stroke-width="0.099" font-family="Liberation Serif, serif" textLength="8.80" lengthAdjust="spacingAndGlyphs">10</text><text x="563.04" y="315.40" font-size="6.4799999999999995" text-anchor="start" fill="#000" stroke="#000" stroke-width="0.071" font-family="Liberation Serif, serif" textLength="10.80" lengthAdjust="spacingAndGlyphs">−11</text>
<text x="445.30" y="345.50" font-size="18.5" text-anchor="start" fill="#000" stroke="#000" stroke-width="0.203" font-family="Liberation Serif, serif">M</text><path d="M462.60 348.90L468.10 332.10" stroke="#000" stroke-width="1.0" fill="none"/><text x="469.30" y="345.50" font-size="18.5" text-anchor="start" fill="#000" stroke="#000" stroke-width="0.203" font-family="Liberation Serif, serif" font-style="italic">D</text><text x="482.80" y="348.60" font-size="12.9" text-anchor="start" fill="#000" stroke="#000" stroke-width="0.142" font-family="Liberation Serif, serif" font-style="italic">d</text>
<g transform="translate(317.9 284.3) rotate(-90)"><text x="0.00" y="0.00" font-size="14" text-anchor="start" fill="#000" stroke="#000" stroke-width="0.154" font-family="Liberation Serif, serif" textLength="113.60" lengthAdjust="spacingAndGlyphs">Abs. magnifications</text><text x="127.20" y="0.00" font-size="14" text-anchor="start" fill="#000" stroke="#000" stroke-width="0.154" font-family="Liberation Serif, serif" textLength="25.00" lengthAdjust="spacingAndGlyphs">ratio</text><path d="M165.00 -11.60L165.00 2.20" stroke="#000" stroke-width="0.9" fill="none"/><path d="M188.30 -11.90L188.30 2.60" stroke="#000" stroke-width="0.9" fill="none"/><path d="M169.30 -4.00L185.00 -4.00" stroke="#000" stroke-width="0.9" fill="none"/><text x="169.90" y="-12.20" font-size="13" text-anchor="start" fill="#000" stroke="#000" stroke-width="0.143" font-family="Liberation Serif, serif" font-style="italic">μ</text><text x="178.60" y="-10.30" font-size="8.8" text-anchor="start" fill="#000" stroke="#000" stroke-width="0.097" font-family="Liberation Serif, serif" font-style="italic">p</text><text x="170.60" y="10.10" font-size="13" text-anchor="start" fill="#000" stroke="#000" stroke-width="0.143" font-family="Liberation Serif, serif" font-style="italic">μ</text><text x="178.90" y="12.80" font-size="8.8" text-anchor="start" fill="#000" stroke="#000" stroke-width="0.097" font-family="Liberation Serif, serif" font-style="italic">s</text></g>
<g transform="translate(403.40 119.60) scale(0.0135)" fill="none" stroke="#0000ff" stroke-linecap="round" stroke-linejoin="round"><path d="M 70 -430 C 40 -540 130 -640 264 -672 C 350 -695 440 -705 519 -700 C 680 -690 810 -600 838 -420 C 860 -280 790 -130 650 -60 C 560 -15 400 0 250 -10 C 150 -15 50 -40 -5 -85" stroke-width="52"/><path d="M 388 -668 L 222 -55" stroke-width="98"/><path d="M 745 -625 C 820 -540 850 -420 838 -330 C 825 -250 780 -160 690 -90" stroke-width="92"/><circle cx="78" cy="-425" r="28" fill="#0000ff" stroke-width="40"/></g><text x="417.55" y="119.60" font-size="13.5" text-anchor="start" fill="#0000ff" font-family="Liberation Serif, serif">=</text><text x="429.45" y="119.60" font-size="14.175" text-anchor="start" fill="#0000ff" font-family="Liberation Serif, serif" textLength="30.38" lengthAdjust="spacingAndGlyphs">0.005</text>
<g transform="translate(404.90 249.60) scale(0.0135)" fill="none" stroke="#006400" stroke-linecap="round" stroke-linejoin="round"><path d="M 70 -430 C 40 -540 130 -640 264 -672 C 350 -695 440 -705 519 -700 C 680 -690 810 -600 838 -420 C 860 -280 790 -130 650 -60 C 560 -15 400 0 250 -10 C 150 -15 50 -40 -5 -85" stroke-width="52"/><path d="M 388 -668 L 222 -55" stroke-width="98"/><path d="M 745 -625 C 820 -540 850 -420 838 -330 C 825 -250 780 -160 690 -90" stroke-width="92"/><circle cx="78" cy="-425" r="28" fill="#006400" stroke-width="40"/></g><text x="422.55" y="249.60" font-size="13.5" text-anchor="start" fill="#006400" font-family="Liberation Serif, serif">=</text><text x="434.55" y="249.60" font-size="14.175" text-anchor="start" fill="#006400" font-family="Liberation Serif, serif" textLength="23.62" lengthAdjust="spacingAndGlyphs">0.05</text>
<g transform="translate(389.90 298.90) scale(0.0135)" fill="none" stroke="#ff0000" stroke-linecap="round" stroke-linejoin="round"><path d="M 70 -430 C 40 -540 130 -640 264 -672 C 350 -695 440 -705 519 -700 C 680 -690 810 -600 838 -420 C 860 -280 790 -130 650 -60 C 560 -15 400 0 250 -10 C 150 -15 50 -40 -5 -85" stroke-width="52"/><path d="M 388 -668 L 222 -55" stroke-width="98"/><path d="M 745 -625 C 820 -540 850 -420 838 -330 C 825 -250 780 -160 690 -90" stroke-width="92"/><circle cx="78" cy="-425" r="28" fill="#ff0000" stroke-width="40"/></g><text x="404.15" y="298.90" font-size="13.5" text-anchor="start" fill="#ff0000" font-family="Liberation Serif, serif">=</text><text x="415.55" y="298.90" font-size="14.175" text-anchor="start" fill="#ff0000" font-family="Liberation Serif, serif" textLength="16.88" lengthAdjust="spacingAndGlyphs">0.5</text>
<path d="M675.4 65.75H851.9M675.4 65.75V312.4" stroke="#adadad" stroke-width="1" fill="none"/>
<path d="M674.9 312.4H851.9" stroke="#adadad" stroke-width="1" fill="none"/>
<path d="M851.9 65.75V312.4" stroke="#adadad" stroke-width="1" fill="none"/>
<path d="M678.40 60.25V71.25M678.40 306.9V317.9M685.90 65.75V69.15M685.90 309.0V312.4M693.40 65.75V69.15M693.40 309.0V312.4M700.90 65.75V69.15M700.90 309.0V312.4M708.40 65.75V69.15M708.40 309.0V312.4M715.90 60.25V71.25M715.90 306.9V317.9M723.40 65.75V69.15M723.40 309.0V312.4M730.90 65.75V69.15M730.90 309.0V312.4M738.40 65.75V69.15M738.40 309.0V312.4M745.90 65.75V69.15M745.90 309.0V312.4M753.40 65.75V69.15M753.40 309.0V312.4M760.90 65.75V69.15M760.90 309.0V312.4M768.40 65.75V69.15M768.40 309.0V312.4M775.90 65.75V69.15M775.90 309.0V312.4M783.40 65.75V69.15M783.40 309.0V312.4M790.90 60.25V71.25M790.90 306.9V317.9M798.40 65.75V69.15M798.40 309.0V312.4M805.90 65.75V69.15M805.90 309.0V312.4M813.40 65.75V69.15M813.40 309.0V312.4M820.90 65.75V69.15M820.90 309.0V312.4M828.40 65.75V69.15M828.40 309.0V312.4M835.90 65.75V69.15M835.90 309.0V312.4M843.40 65.75V69.15M843.40 309.0V312.4M850.90 60.25V71.25M850.90 306.9V317.9M675.4 309.30H678.1M849.1999999999999 309.30H851.9M675.4 275.90H678.1M849.1999999999999 275.90H851.9M675.4 242.50H678.1M849.1999999999999 242.50H851.9M675.4 209.10H678.1M849.1999999999999 209.10H851.9M675.4 175.70H678.1M849.1999999999999 175.70H851.9M675.4 142.30H678.1M849.1999999999999 142.30H851.9M675.4 108.90H678.1M849.1999999999999 108.90H851.9M675.4 75.50H678.1M849.1999999999999 75.50H851.9M675.4 302.62H677.0M850.3 302.62H851.9M675.4 295.94H677.0M850.3 295.94H851.9M675.4 289.26H677.0M850.3 289.26H851.9M675.4 282.58H677.0M850.3 282.58H851.9M675.4 269.22H677.0M850.3 269.22H851.9M675.4 262.54H677.0M850.3 262.54H851.9M675.4 255.86H677.0M850.3 255.86H851.9M675.4 249.18H677.0M850.3 249.18H851.9M675.4 235.82H677.0M850.3 235.82H851.9M675.4 229.14H677.0M850.3 229.14H851.9M675.4 222.46H677.0M850.3 222.46H851.9M675.4 215.78H677.0M850.3 215.78H851.9M675.4 202.42H677.0M850.3 202.42H851.9M675.4 195.74H677.0M850.3 195.74H851.9M675.4 189.06H677.0M850.3 189.06H851.9M675.4 182.38H677.0M850.3 182.38H851.9M675.4 169.02H677.0M850.3 169.02H851.9M675.4 162.34H677.0M850.3 162.34H851.9M675.4 155.66H677.0M850.3 155.66H851.9M675.4 148.98H677.0M850.3 148.98H851.9M675.4 135.62H677.0M850.3 135.62H851.9M675.4 128.94H677.0M850.3 128.94H851.9M675.4 122.26H677.0M850.3 122.26H851.9M675.4 115.58H677.0M850.3 115.58H851.9M675.4 102.22H677.0M850.3 102.22H851.9M675.4 95.54H677.0M850.3 95.54H851.9M675.4 88.86H677.0M850.3 88.86H851.9M675.4 82.18H677.0M850.3 82.18H851.9M675.4 68.82H677.0M850.3 68.82H851.9" stroke="#adadad" stroke-width="0.9" fill="none"/>
<clipPath id="c3"><rect x="675.0" y="65.35" width="177.3" height="247.45"/></clipPath>
<g clip-path="url(#c3)">
<path d="M678.53 309.30L678.62 309.30L678.64 309.30L678.72 309.30L678.75 309.30L678.89 309.30L679.15 309.30L679.38 309.30L679.66 309.30L679.73 309.30L679.76 309.30L679.94 309.30L680.05 309.30L680.35 309.30L680.43 309.30L680.90 309.30L681.41 309.30L681.62 309.30L681.74 309.30L681.89 309.30L682.30 309.30L682.67 309.30L683.12 309.30L683.57 309.30L684.25 309.30L685.00 309.30L685.75 309.30L686.35 309.29L690.92 309.29L691.52 309.29L692.65 309.28L697.52 309.27L698.88 309.27L709.60 309.22L711.92 309.21L715.90 309.18L718.90 309.16L721.52 309.15L745.15 308.93L848.27 306.90" fill="none" stroke="#ff0000" stroke-width="0.72" stroke-linejoin="round"/>
<circle cx="678.53" cy="309.30" r="1.60" fill="#ff0000"/><circle cx="678.62" cy="309.30" r="1.60" fill="#ff0000"/><circle cx="678.64" cy="309.30" r="1.60" fill="#ff0000"/><circle cx="678.72" cy="309.30" r="1.60" fill="#ff0000"/><circle cx="678.75" cy="309.30" r="1.60" fill="#ff0000"/><circle cx="678.89" cy="309.30" r="1.60" fill="#ff0000"/><circle cx="679.15" cy="309.30" r="1.60" fill="#ff0000"/><circle cx="679.38" cy="309.30" r="1.60" fill="#ff0000"/><circle cx="679.66" cy="309.30" r="1.60" fill="#ff0000"/><circle cx="679.73" cy="309.30" r="1.60" fill="#ff0000"/><circle cx="679.76" cy="309.30" r="1.60" fill="#ff0000"/><circle cx="679.94" cy="309.30" r="1.60" fill="#ff0000"/><circle cx="680.05" cy="309.30" r="1.60" fill="#ff0000"/><circle cx="680.35" cy="309.30" r="1.60" fill="#ff0000"/><circle cx="680.43" cy="309.30" r="1.60" fill="#ff0000"/><circle cx="680.90" cy="309.30" r="1.60" fill="#ff0000"/><circle cx="681.41" cy="309.30" r="1.60" fill="#ff0000"/><circle cx="681.62" cy="309.30" r="1.60" fill="#ff0000"/><circle cx="681.74" cy="309.30" r="1.60" fill="#ff0000"/><circle cx="681.89" cy="309.30" r="1.60" fill="#ff0000"/><circle cx="682.30" cy="309.30" r="1.60" fill="#ff0000"/><circle cx="682.67" cy="309.30" r="1.60" fill="#ff0000"/><circle cx="683.12" cy="309.30" r="1.60" fill="#ff0000"/><circle cx="683.57" cy="309.30" r="1.60" fill="#ff0000"/><circle cx="684.25" cy="309.30" r="1.60" fill="#ff0000"/><circle cx="685.00" cy="309.30" r="1.60" fill="#ff0000"/><circle cx="685.75" cy="309.30" r="1.60" fill="#ff0000"/><circle cx="686.35" cy="309.29" r="1.60" fill="#ff0000"/><circle cx="690.92" cy="309.29" r="1.60" fill="#ff0000"/><circle cx="691.52" cy="309.29" r="1.60" fill="#ff0000"/><circle cx="692.65" cy="309.28" r="1.60" fill="#ff0000"/><circle cx="697.52" cy="309.27" r="1.60" fill="#ff0000"/><circle cx="698.88" cy="309.27" r="1.60" fill="#ff0000"/><circle cx="709.60" cy="309.22" r="1.60" fill="#ff0000"/><circle cx="711.92" cy="309.21" r="1.60" fill="#ff0000"/><circle cx="715.90" cy="309.18" r="1.60" fill="#ff0000"/><circle cx="718.90" cy="309.16" r="1.60" fill="#ff0000"/><circle cx="721.52" cy="309.15" r="1.60" fill="#ff0000"/><circle cx="745.15" cy="308.93" r="1.60" fill="#ff0000"/><circle cx="848.27" cy="306.90" r="1.60" fill="#ff0000"/>
<path d="M678.53 309.30L678.62 309.30L678.64 309.30L678.72 309.30L678.75 309.30L678.89 309.30L679.15 309.30L679.38 309.30L679.66 309.30L679.73 309.30L679.76 309.30L679.94 309.30L680.05 309.30L680.35 309.30L680.43 309.30L680.90 309.29L681.41 309.29L681.62 309.29L681.74 309.29L681.89 309.29L682.30 309.29L682.67 309.28L683.12 309.28L683.57 309.28L684.25 309.27L685.00 309.26L685.75 309.25L686.35 309.25L690.92 309.17L691.52 309.16L692.65 309.13L697.52 309.00L698.88 308.95L709.60 308.49L711.92 308.36L715.90 308.13L718.90 307.93L721.52 307.75L745.15 305.59L848.27 285.25" fill="none" stroke="#006400" stroke-width="0.72" stroke-linejoin="round"/>
<rect x="677.09" y="307.86" width="2.88" height="2.88" rx="0.4" fill="#006400"/><rect x="677.18" y="307.86" width="2.88" height="2.88" rx="0.4" fill="#006400"/><rect x="677.20" y="307.86" width="2.88" height="2.88" rx="0.4" fill="#006400"/><rect x="677.28" y="307.86" width="2.88" height="2.88" rx="0.4" fill="#006400"/><rect x="677.31" y="307.86" width="2.88" height="2.88" rx="0.4" fill="#006400"/><rect x="677.45" y="307.86" width="2.88" height="2.88" rx="0.4" fill="#006400"/><rect x="677.71" y="307.86" width="2.88" height="2.88" rx="0.4" fill="#006400"/><rect x="677.93" y="307.86" width="2.88" height="2.88" rx="0.4" fill="#006400"/><rect x="678.22" y="307.86" width="2.88" height="2.88" rx="0.4" fill="#006400"/><rect x="678.29" y="307.86" width="2.88" height="2.88" rx="0.4" fill="#006400"/><rect x="678.32" y="307.86" width="2.88" height="2.88" rx="0.4" fill="#006400"/><rect x="678.50" y="307.86" width="2.88" height="2.88" rx="0.4" fill="#006400"/><rect x="678.61" y="307.86" width="2.88" height="2.88" rx="0.4" fill="#006400"/><rect x="678.91" y="307.86" width="2.88" height="2.88" rx="0.4" fill="#006400"/><rect x="678.99" y="307.86" width="2.88" height="2.88" rx="0.4" fill="#006400"/><rect x="679.46" y="307.85" width="2.88" height="2.88" rx="0.4" fill="#006400"/><rect x="679.97" y="307.85" width="2.88" height="2.88" rx="0.4" fill="#006400"/><rect x="680.18" y="307.85" width="2.88" height="2.88" rx="0.4" fill="#006400"/><rect x="680.30" y="307.85" width="2.88" height="2.88" rx="0.4" fill="#006400"/><rect x="680.45" y="307.85" width="2.88" height="2.88" rx="0.4" fill="#006400"/><rect x="680.86" y="307.85" width="2.88" height="2.88" rx="0.4" fill="#006400"/><rect x="681.23" y="307.84" width="2.88" height="2.88" rx="0.4" fill="#006400"/><rect x="681.68" y="307.84" width="2.88" height="2.88" rx="0.4" fill="#006400"/><rect x="682.13" y="307.84" width="2.88" height="2.88" rx="0.4" fill="#006400"/><rect x="682.81" y="307.83" width="2.88" height="2.88" rx="0.4" fill="#006400"/><rect x="683.56" y="307.82" width="2.88" height="2.88" rx="0.4" fill="#006400"/><rect x="684.31" y="307.81" width="2.88" height="2.88" rx="0.4" fill="#006400"/><rect x="684.91" y="307.81" width="2.88" height="2.88" rx="0.4" fill="#006400"/><rect x="689.48" y="307.73" width="2.88" height="2.88" rx="0.4" fill="#006400"/><rect x="690.08" y="307.72" width="2.88" height="2.88" rx="0.4" fill="#006400"/><rect x="691.21" y="307.69" width="2.88" height="2.88" rx="0.4" fill="#006400"/><rect x="696.08" y="307.56" width="2.88" height="2.88" rx="0.4" fill="#006400"/><rect x="697.43" y="307.51" width="2.88" height="2.88" rx="0.4" fill="#006400"/><rect x="708.16" y="307.05" width="2.88" height="2.88" rx="0.4" fill="#006400"/><rect x="710.48" y="306.92" width="2.88" height="2.88" rx="0.4" fill="#006400"/><rect x="714.46" y="306.69" width="2.88" height="2.88" rx="0.4" fill="#006400"/><rect x="717.46" y="306.49" width="2.88" height="2.88" rx="0.4" fill="#006400"/><rect x="720.08" y="306.31" width="2.88" height="2.88" rx="0.4" fill="#006400"/><rect x="743.71" y="304.15" width="2.88" height="2.88" rx="0.4" fill="#006400"/><rect x="846.83" y="283.81" width="2.88" height="2.88" rx="0.4" fill="#006400"/>
<path d="M678.53 309.30L678.62 309.30L678.64 309.30L678.72 309.30L678.75 309.30L678.89 309.30L679.15 309.30L679.38 309.29L679.66 309.29L679.73 309.29L679.76 309.28L679.94 309.28L680.05 309.28L680.35 309.27L680.43 309.27L680.90 309.25L681.41 309.22L681.62 309.21L681.74 309.21L681.89 309.20L682.30 309.17L682.67 309.15L683.12 309.11L683.57 309.08L684.25 309.01L685.00 308.94L685.75 308.85L686.35 308.77L690.92 307.99L691.52 307.86L692.65 307.61L697.52 306.25L698.88 305.81L709.60 301.19L711.92 299.93L715.90 297.58L718.90 295.63L721.52 293.80L745.15 272.17L848.27 68.82" fill="none" stroke="#0000ff" stroke-width="0.72" stroke-linejoin="round"/>
<path d="M678.53 307.69L679.90 309.30L678.53 310.91L677.17 309.30Z" fill="#0000ff"/><path d="M678.62 307.69L679.99 309.30L678.62 310.91L677.25 309.30Z" fill="#0000ff"/><path d="M678.64 307.69L680.00 309.30L678.64 310.91L677.27 309.30Z" fill="#0000ff"/><path d="M678.72 307.69L680.09 309.30L678.72 310.91L677.35 309.30Z" fill="#0000ff"/><path d="M678.75 307.69L680.12 309.30L678.75 310.91L677.38 309.30Z" fill="#0000ff"/><path d="M678.89 307.69L680.26 309.30L678.89 310.91L677.52 309.30Z" fill="#0000ff"/><path d="M679.15 307.69L680.52 309.30L679.15 310.91L677.78 309.30Z" fill="#0000ff"/><path d="M679.38 307.68L680.74 309.29L679.38 310.90L678.01 309.29Z" fill="#0000ff"/><path d="M679.66 307.68L681.03 309.29L679.66 310.90L678.29 309.29Z" fill="#0000ff"/><path d="M679.73 307.68L681.10 309.29L679.73 310.90L678.36 309.29Z" fill="#0000ff"/><path d="M679.76 307.67L681.13 309.28L679.76 310.89L678.39 309.28Z" fill="#0000ff"/><path d="M679.94 307.67L681.31 309.28L679.94 310.89L678.58 309.28Z" fill="#0000ff"/><path d="M680.05 307.67L681.41 309.28L680.05 310.89L678.68 309.28Z" fill="#0000ff"/><path d="M680.35 307.66L681.71 309.27L680.35 310.88L678.98 309.27Z" fill="#0000ff"/><path d="M680.43 307.66L681.80 309.27L680.43 310.88L679.06 309.27Z" fill="#0000ff"/><path d="M680.90 307.64L682.27 309.25L680.90 310.86L679.53 309.25Z" fill="#0000ff"/><path d="M681.41 307.61L682.78 309.22L681.41 310.83L680.04 309.22Z" fill="#0000ff"/><path d="M681.62 307.60L682.99 309.21L681.62 310.82L680.26 309.21Z" fill="#0000ff"/><path d="M681.74 307.60L683.11 309.21L681.74 310.82L680.37 309.21Z" fill="#0000ff"/><path d="M681.89 307.59L683.26 309.20L681.89 310.81L680.52 309.20Z" fill="#0000ff"/><path d="M682.30 307.56L683.67 309.17L682.30 310.78L680.93 309.17Z" fill="#0000ff"/><path d="M682.67 307.54L684.04 309.15L682.67 310.76L681.31 309.15Z" fill="#0000ff"/><path d="M683.12 307.50L684.49 309.11L683.12 310.72L681.76 309.11Z" fill="#0000ff"/><path d="M683.57 307.47L684.94 309.08L683.57 310.69L682.21 309.08Z" fill="#0000ff"/><path d="M684.25 307.40L685.62 309.01L684.25 310.62L682.88 309.01Z" fill="#0000ff"/><path d="M685.00 307.33L686.37 308.94L685.00 310.55L683.63 308.94Z" fill="#0000ff"/><path d="M685.75 307.24L687.12 308.85L685.75 310.46L684.38 308.85Z" fill="#0000ff"/><path d="M686.35 307.16L687.72 308.77L686.35 310.38L684.98 308.77Z" fill="#0000ff"/><path d="M690.92 306.38L692.29 307.99L690.92 309.60L689.56 307.99Z" fill="#0000ff"/><path d="M691.52 306.25L692.89 307.86L691.52 309.47L690.16 307.86Z" fill="#0000ff"/><path d="M692.65 306.00L694.02 307.61L692.65 309.22L691.28 307.61Z" fill="#0000ff"/><path d="M697.52 304.64L698.89 306.25L697.52 307.86L696.16 306.25Z" fill="#0000ff"/><path d="M698.88 304.20L700.24 305.81L698.88 307.42L697.51 305.81Z" fill="#0000ff"/><path d="M709.60 299.58L710.97 301.19L709.60 302.80L708.23 301.19Z" fill="#0000ff"/><path d="M711.92 298.32L713.29 299.93L711.92 301.54L710.56 299.93Z" fill="#0000ff"/><path d="M715.90 295.97L717.27 297.58L715.90 299.19L714.53 297.58Z" fill="#0000ff"/><path d="M718.90 294.02L720.27 295.63L718.90 297.24L717.53 295.63Z" fill="#0000ff"/><path d="M721.52 292.19L722.89 293.80L721.52 295.41L720.16 293.80Z" fill="#0000ff"/><path d="M745.15 270.56L746.52 272.17L745.15 273.78L743.78 272.17Z" fill="#0000ff"/><path d="M848.27 67.21L849.64 68.82L848.27 70.43L846.91 68.82Z" fill="#0000ff"/>
</g>
<text x="672.30" y="313.30" font-size="12" text-anchor="end" fill="#000" stroke="#000" stroke-width="0.132" font-family="Liberation Serif, serif">0</text>
<text x="633.70" y="281.10" font-size="12" text-anchor="end" fill="#000" stroke="#000" stroke-width="0.132" font-family="Liberation Serif, serif">1.</text><path d="M636.90 274.50L643.10 280.70M636.90 280.70L643.10 274.50" stroke="#000" stroke-width="0.85" fill="none"/><text x="646.20" y="281.10" font-size="12" text-anchor="start" fill="#000" stroke="#000" stroke-width="0.132" font-family="Liberation Serif, serif" textLength="11.20" lengthAdjust="spacingAndGlyphs">10</text><text x="657.20" y="275.70" font-size="8.3" text-anchor="start" fill="#000" stroke="#000" stroke-width="0.091" font-family="Liberation Serif, serif" textLength="15.30" lengthAdjust="spacingAndGlyphs">−10</text>
<text x="633.70" y="247.70" font-size="12" text-anchor="end" fill="#000" stroke="#000" stroke-width="0.132" font-family="Liberation Serif, serif">2.</text><path d="M636.90 241.10L643.10 247.30M636.90 247.30L643.10 241.10" stroke="#000" stroke-width="0.85" fill="none"/><text x="646.20" y="247.70" font-size="12" text-anchor="start" fill="#000" stroke="#000" stroke-width="0.132" font-family="Liberation Serif, serif" textLength="11.20" lengthAdjust="spacingAndGlyphs">10</text><text x="657.20" y="242.30" font-size="8.3" text-anchor="start" fill="#000" stroke="#000" stroke-width="0.091" font-family="Liberation Serif, serif" textLength="15.30" lengthAdjust="spacingAndGlyphs">−10</text>
<text x="633.70" y="214.30" font-size="12" text-anchor="end" fill="#000" stroke="#000" stroke-width="0.132" font-family="Liberation Serif, serif">3.</text><path d="M636.90 207.70L643.10 213.90M636.90 213.90L643.10 207.70" stroke="#000" stroke-width="0.85" fill="none"/><text x="646.20" y="214.30" font-size="12" text-anchor="start" fill="#000" stroke="#000" stroke-width="0.132" font-family="Liberation Serif, serif" textLength="11.20" lengthAdjust="spacingAndGlyphs">10</text><text x="657.20" y="208.90" font-size="8.3" text-anchor="start" fill="#000" stroke="#000" stroke-width="0.091" font-family="Liberation Serif, serif" textLength="15.30" lengthAdjust="spacingAndGlyphs">−10</text>
<text x="633.70" y="180.90" font-size="12" text-anchor="end" fill="#000" stroke="#000" stroke-width="0.132" font-family="Liberation Serif, serif">4.</text><path d="M636.90 174.30L643.10 180.50M636.90 180.50L643.10 174.30" stroke="#000" stroke-width="0.85" fill="none"/><text x="646.20" y="180.90" font-size="12" text-anchor="start" fill="#000" stroke="#000" stroke-width="0.132" font-family="Liberation Serif, serif" textLength="11.20" lengthAdjust="spacingAndGlyphs">10</text><text x="657.20" y="175.50" font-size="8.3" text-anchor="start" fill="#000" stroke="#000" stroke-width="0.091" font-family="Liberation Serif, serif" textLength="15.30" lengthAdjust="spacingAndGlyphs">−10</text>
<text x="633.70" y="147.50" font-size="12" text-anchor="end" fill="#000" stroke="#000" stroke-width="0.132" font-family="Liberation Serif, serif">5.</text><path d="M636.90 140.90L643.10 147.10M636.90 147.10L643.10 140.90" stroke="#000" stroke-width="0.85" fill="none"/><text x="646.20" y="147.50" font-size="12" text-anchor="start" fill="#000" stroke="#000" stroke-width="0.132" font-family="Liberation Serif, serif" textLength="11.20" lengthAdjust="spacingAndGlyphs">10</text><text x="657.20" y="142.10" font-size="8.3" text-anchor="start" fill="#000" stroke="#000" stroke-width="0.091" font-family="Liberation Serif, serif" textLength="15.30" lengthAdjust="spacingAndGlyphs">−10</text>
<text x="633.70" y="114.10" font-size="12" text-anchor="end" fill="#000" stroke="#000" stroke-width="0.132" font-family="Liberation Serif, serif">6.</text><path d="M636.90 107.50L643.10 113.70M636.90 113.70L643.10 107.50" stroke="#000" stroke-width="0.85" fill="none"/><text x="646.20" y="114.10" font-size="12" text-anchor="start" fill="#000" stroke="#000" stroke-width="0.132" font-family="Liberation Serif, serif" textLength="11.20" lengthAdjust="spacingAndGlyphs">10</text><text x="657.20" y="108.70" font-size="8.3" text-anchor="start" fill="#000" stroke="#000" stroke-width="0.091" font-family="Liberation Serif, serif" textLength="15.30" lengthAdjust="spacingAndGlyphs">−10</text>
<text x="633.70" y="80.70" font-size="12" text-anchor="end" fill="#000" stroke="#000" stroke-width="0.132" font-family="Liberation Serif, serif">7.</text><path d="M636.90 74.10L643.10 80.30M636.90 80.30L643.10 74.10" stroke="#000" stroke-width="0.85" fill="none"/><text x="646.20" y="80.70" font-size="12" text-anchor="start" fill="#000" stroke="#000" stroke-width="0.132" font-family="Liberation Serif, serif" textLength="11.20" lengthAdjust="spacingAndGlyphs">10</text><text x="657.20" y="75.30" font-size="8.3" text-anchor="start" fill="#000" stroke="#000" stroke-width="0.091" font-family="Liberation Serif, serif" textLength="15.30" lengthAdjust="spacingAndGlyphs">−10</text>
<text x="678.40" y="330.40" font-size="8.549999999999999" text-anchor="middle" fill="#000" stroke="#000" stroke-width="0.094" font-family="Liberation Serif, serif">0</text><text x="697.20" y="332.10" font-size="9.0" text-anchor="start" fill="#000" stroke="#000" stroke-width="0.099" font-family="Liberation Serif, serif">5.</text><path d="M706.30 327.20L710.70 331.60M706.30 331.60L710.70 327.20" stroke="#000" stroke-width="0.7" fill="none"/><text x="714.50" y="332.10" font-size="9.0" text-anchor="start" fill="#000" stroke="#000" stroke-width="0.099" font-family="Liberation Serif, serif" textLength="8.80" lengthAdjust="spacingAndGlyphs">10</text><text x="723.40" y="327.70" font-size="6.4799999999999995" text-anchor="start" fill="#000" stroke="#000" stroke-width="0.071" font-family="Liberation Serif, serif" textLength="10.80" lengthAdjust="spacingAndGlyphs">−12</text><text x="770.00" y="332.10" font-size="9.0" text-anchor="start" fill="#000" stroke="#000" stroke-width="0.099" font-family="Liberation Serif, serif">1.5</text><path d="M783.50 327.20L787.90 331.60M783.50 331.60L787.90 327.20" stroke="#000" stroke-width="0.7" fill="none"/><text x="791.70" y="332.10" font-size="9.0" text-anchor="start" fill="#000" stroke="#000" stroke-width="0.099" font-family="Liberation Serif, serif" textLength="8.80" lengthAdjust="spacingAndGlyphs">10</text><text x="800.60" y="327.70" font-size="6.4799999999999995" text-anchor="start" fill="#000" stroke="#000" stroke-width="0.071" font-family="Liberation Serif, serif" textLength="10.80" lengthAdjust="spacingAndGlyphs">−11</text><text x="830.00" y="332.10" font-size="9.0" text-anchor="start" fill="#000" stroke="#000" stroke-width="0.099" font-family="Liberation Serif, serif">2.3</text><path d="M843.50 327.20L847.90 331.60M843.50 331.60L847.90 327.20" stroke="#000" stroke-width="0.7" fill="none"/><text x="851.70" y="332.10" font-size="9.0" text-anchor="start" fill="#000" stroke="#000" stroke-width="0.099" font-family="Liberation Serif, serif" textLength="8.80" lengthAdjust="spacingAndGlyphs">10</text><text x="860.60" y="327.70" font-size="6.4799999999999995" text-anchor="start" fill="#000" stroke="#000" stroke-width="0.071" font-family="Liberation Serif, serif" textLength="10.80" lengthAdjust="spacingAndGlyphs">−11</text>
<text x="740.70" y="357.40" font-size="18.5" text-anchor="start" fill="#000" stroke="#000" stroke-width="0.203" font-family="Liberation Serif, serif">M</text><path d="M758.00 360.80L763.50 344.00" stroke="#000" stroke-width="1.0" fill="none"/><text x="764.70" y="357.40" font-size="18.5" text-anchor="start" fill="#000" stroke="#000" stroke-width="0.203" font-family="Liberation Serif, serif" font-style="italic">D</text><text x="778.20" y="360.50" font-size="12.9" text-anchor="start" fill="#000" stroke="#000" stroke-width="0.142" font-family="Liberation Serif, serif" font-style="italic">d</text>
<g transform="translate(610.9 257.5) rotate(-90)"><text x="0.00" y="0.00" font-size="17.3" text-anchor="start" fill="#000" stroke="#000" stroke-width="0.190" font-family="Liberation Serif, serif" textLength="97.50" lengthAdjust="spacingAndGlyphs">Magnification</text><text x="111.90" y="-0.30" font-size="17.3" text-anchor="start" fill="#000" stroke="#000" stroke-width="0.190" font-family="Liberation Serif, serif" font-style="italic">μ</text><text x="121.20" y="2.80" font-size="12" text-anchor="start" fill="#000" stroke="#000" stroke-width="0.132" font-family="Liberation Serif, serif">1</text><text x="131.20" y="2.80" font-size="12" text-anchor="start" fill="#000" stroke="#000" stroke-width="0.132" font-family="Liberation Serif, serif" font-style="italic">p</text></g>
<g transform="translate(759.00 113.50) scale(0.0135)" fill="none" stroke="#0000ff" stroke-linecap="round" stroke-linejoin="round"><path d="M 70 -430 C 40 -540 130 -640 264 -672 C 350 -695 440 -705 519 -700 C 680 -690 810 -600 838 -420 C 860 -280 790 -130 650 -60 C 560 -15 400 0 250 -10 C 150 -15 50 -40 -5 -85" stroke-width="52"/><path d="M 388 -668 L 222 -55" stroke-width="98"/><path d="M 745 -625 C 820 -540 850 -420 838 -330 C 825 -250 780 -160 690 -90" stroke-width="92"/><circle cx="78" cy="-425" r="28" fill="#0000ff" stroke-width="40"/></g><text x="773.45" y="113.50" font-size="13.5" text-anchor="start" fill="#0000ff" font-family="Liberation Serif, serif">=</text><text x="785.05" y="113.50" font-size="14.175" text-anchor="start" fill="#0000ff" font-family="Liberation Serif, serif" textLength="30.38" lengthAdjust="spacingAndGlyphs">0.005</text>
<g transform="translate(728.30 300.80) scale(0.0135)" fill="none" stroke="#006400" stroke-linecap="round" stroke-linejoin="round"><path d="M 70 -430 C 40 -540 130 -640 264 -672 C 350 -695 440 -705 519 -700 C 680 -690 810 -600 838 -420 C 860 -280 790 -130 650 -60 C 560 -15 400 0 250 -10 C 150 -15 50 -40 -5 -85" stroke-width="52"/><path d="M 388 -668 L 222 -55" stroke-width="98"/><path d="M 745 -625 C 820 -540 850 -420 838 -330 C 825 -250 780 -160 690 -90" stroke-width="92"/><circle cx="78" cy="-425" r="28" fill="#006400" stroke-width="40"/></g><text x="743.35" y="300.80" font-size="13.5" text-anchor="start" fill="#006400" font-family="Liberation Serif, serif">=</text><text x="754.05" y="300.80" font-size="14.175" text-anchor="start" fill="#006400" font-family="Liberation Serif, serif" textLength="23.62" lengthAdjust="spacingAndGlyphs">0.05</text>
<g transform="translate(792.50 306.60) scale(0.0135)" fill="none" stroke="#ff0000" stroke-linecap="round" stroke-linejoin="round"><path d="M 70 -430 C 40 -540 130 -640 264 -672 C 350 -695 440 -705 519 -700 C 680 -690 810 -600 838 -420 C 860 -280 790 -130 650 -60 C 560 -15 400 0 250 -10 C 150 -15 50 -40 -5 -85" stroke-width="52"/><path d="M 388 -668 L 222 -55" stroke-width="98"/><path d="M 745 -625 C 820 -540 850 -420 838 -330 C 825 -250 780 -160 690 -90" stroke-width="92"/><circle cx="78" cy="-425" r="28" fill="#ff0000" stroke-width="40"/></g><text x="806.25" y="306.60" font-size="13.5" text-anchor="start" fill="#ff0000" font-family="Liberation Serif, serif">=</text><text x="817.85" y="306.60" font-size="14.175" text-anchor="start" fill="#ff0000" font-family="Liberation Serif, serif" textLength="16.88" lengthAdjust="spacingAndGlyphs">0.5</text>
<path d="M86.2 503H256.6M86.2 503V741.3" stroke="#adadad" stroke-width="1" fill="none"/>
<path d="M85.7 741.3H256.6" stroke="#adadad" stroke-width="1" fill="none"/>
<path d="M256.6 503V741.3" stroke="#adadad" stroke-width="1" fill="none"/>
<path d="M89.40 497.5V508.5M89.40 735.8V746.8M96.62 503V506.4M96.62 737.9V741.3M103.83 503V506.4M103.83 737.9V741.3M111.05 503V506.4M111.05 737.9V741.3M118.27 503V506.4M118.27 737.9V741.3M125.49 497.5V508.5M125.49 735.8V746.8M132.70 503V506.4M132.70 737.9V741.3M139.92 503V506.4M139.92 737.9V741.3M147.14 503V506.4M147.14 737.9V741.3M154.35 503V506.4M154.35 737.9V741.3M161.57 503V506.4M161.57 737.9V741.3M168.79 503V506.4M168.79 737.9V741.3M176.00 503V506.4M176.00 737.9V741.3M183.22 503V506.4M183.22 737.9V741.3M190.44 503V506.4M190.44 737.9V741.3M197.66 497.5V508.5M197.66 735.8V746.8M204.87 503V506.4M204.87 737.9V741.3M212.09 503V506.4M212.09 737.9V741.3M219.31 503V506.4M219.31 737.9V741.3M226.52 503V506.4M226.52 737.9V741.3M233.74 503V506.4M233.74 737.9V741.3M240.96 503V506.4M240.96 737.9V741.3M248.17 503V506.4M248.17 737.9V741.3M255.39 497.5V508.5M255.39 735.8V746.8M86.2 738.20H88.9M253.90000000000003 738.20H256.6M86.2 703.44H88.9M253.90000000000003 703.44H256.6M86.2 668.68H88.9M253.90000000000003 668.68H256.6M86.2 633.92H88.9M253.90000000000003 633.92H256.6M86.2 599.16H88.9M253.90000000000003 599.16H256.6M86.2 564.40H88.9M253.90000000000003 564.40H256.6M86.2 529.64H88.9M253.90000000000003 529.64H256.6M86.2 729.51H87.8M255.00000000000003 729.51H256.6M86.2 720.82H87.8M255.00000000000003 720.82H256.6M86.2 712.13H87.8M255.00000000000003 712.13H256.6M86.2 694.75H87.8M255.00000000000003 694.75H256.6M86.2 686.06H87.8M255.00000000000003 686.06H256.6M86.2 677.37H87.8M255.00000000000003 677.37H256.6M86.2 659.99H87.8M255.00000000000003 659.99H256.6M86.2 651.30H87.8M255.00000000000003 651.30H256.6M86.2 642.61H87.8M255.00000000000003 642.61H256.6M86.2 625.23H87.8M255.00000000000003 625.23H256.6M86.2 616.54H87.8M255.00000000000003 616.54H256.6M86.2 607.85H87.8M255.00000000000003 607.85H256.6M86.2 590.47H87.8M255.00000000000003 590.47H256.6M86.2 581.78H87.8M255.00000000000003 581.78H256.6M86.2 573.09H87.8M255.00000000000003 573.09H256.6M86.2 555.71H87.8M255.00000000000003 555.71H256.6M86.2 547.02H87.8M255.00000000000003 547.02H256.6M86.2 538.33H87.8M255.00000000000003 538.33H256.6M86.2 520.95H87.8M255.00000000000003 520.95H256.6M86.2 512.26H87.8M255.00000000000003 512.26H256.6M86.2 503.57H87.8M255.00000000000003 503.57H256.6" stroke="#adadad" stroke-width="0.9" fill="none"/>
<clipPath id="c4"><rect x="85.8" y="502.6" width="171.20000000000005" height="239.09999999999997"/></clipPath>
<g clip-path="url(#c4)">
<path d="M89.53 738.20L89.61 738.20L89.63 738.20L89.71 738.20L89.74 738.20L89.87 738.20L90.12 738.20L90.34 738.20L90.61 738.20L90.68 738.20L90.71 738.20L90.89 738.20L90.98 738.20L91.27 738.20L91.36 738.20L91.81 738.20L92.29 738.20L92.50 738.20L92.61 738.20L92.76 738.20L93.15 738.20L93.51 738.20L93.95 738.20L94.38 738.20L95.03 738.20L95.75 738.20L96.47 738.20L97.05 738.19L101.45 738.19L102.03 738.19L103.11 738.18L107.80 738.17L109.10 738.17L119.42 738.12L121.66 738.11L125.49 738.09L128.37 738.07L130.90 738.05L153.63 737.84L252.87 735.88" fill="none" stroke="#ff0000" stroke-width="0.72" stroke-linejoin="round"/>
<circle cx="89.53" cy="738.20" r="1.60" fill="#ff0000"/><circle cx="89.61" cy="738.20" r="1.60" fill="#ff0000"/><circle cx="89.63" cy="738.20" r="1.60" fill="#ff0000"/><circle cx="89.71" cy="738.20" r="1.60" fill="#ff0000"/><circle cx="89.74" cy="738.20" r="1.60" fill="#ff0000"/><circle cx="89.87" cy="738.20" r="1.60" fill="#ff0000"/><circle cx="90.12" cy="738.20" r="1.60" fill="#ff0000"/><circle cx="90.34" cy="738.20" r="1.60" fill="#ff0000"/><circle cx="90.61" cy="738.20" r="1.60" fill="#ff0000"/><circle cx="90.68" cy="738.20" r="1.60" fill="#ff0000"/><circle cx="90.71" cy="738.20" r="1.60" fill="#ff0000"/><circle cx="90.89" cy="738.20" r="1.60" fill="#ff0000"/><circle cx="90.98" cy="738.20" r="1.60" fill="#ff0000"/><circle cx="91.27" cy="738.20" r="1.60" fill="#ff0000"/><circle cx="91.36" cy="738.20" r="1.60" fill="#ff0000"/><circle cx="91.81" cy="738.20" r="1.60" fill="#ff0000"/><circle cx="92.29" cy="738.20" r="1.60" fill="#ff0000"/><circle cx="92.50" cy="738.20" r="1.60" fill="#ff0000"/><circle cx="92.61" cy="738.20" r="1.60" fill="#ff0000"/><circle cx="92.76" cy="738.20" r="1.60" fill="#ff0000"/><circle cx="93.15" cy="738.20" r="1.60" fill="#ff0000"/><circle cx="93.51" cy="738.20" r="1.60" fill="#ff0000"/><circle cx="93.95" cy="738.20" r="1.60" fill="#ff0000"/><circle cx="94.38" cy="738.20" r="1.60" fill="#ff0000"/><circle cx="95.03" cy="738.20" r="1.60" fill="#ff0000"/><circle cx="95.75" cy="738.20" r="1.60" fill="#ff0000"/><circle cx="96.47" cy="738.20" r="1.60" fill="#ff0000"/><circle cx="97.05" cy="738.19" r="1.60" fill="#ff0000"/><circle cx="101.45" cy="738.19" r="1.60" fill="#ff0000"/><circle cx="102.03" cy="738.19" r="1.60" fill="#ff0000"/><circle cx="103.11" cy="738.18" r="1.60" fill="#ff0000"/><circle cx="107.80" cy="738.17" r="1.60" fill="#ff0000"/><circle cx="109.10" cy="738.17" r="1.60" fill="#ff0000"/><circle cx="119.42" cy="738.12" r="1.60" fill="#ff0000"/><circle cx="121.66" cy="738.11" r="1.60" fill="#ff0000"/><circle cx="125.49" cy="738.09" r="1.60" fill="#ff0000"/><circle cx="128.37" cy="738.07" r="1.60" fill="#ff0000"/><circle cx="130.90" cy="738.05" r="1.60" fill="#ff0000"/><circle cx="153.63" cy="737.84" r="1.60" fill="#ff0000"/><circle cx="252.87" cy="735.88" r="1.60" fill="#ff0000"/>
<path d="M89.53 738.20L89.61 738.20L89.63 738.20L89.71 738.20L89.74 738.20L89.87 738.20L90.12 738.20L90.34 738.20L90.61 738.20L90.68 738.20L90.71 738.20L90.89 738.20L90.98 738.20L91.27 738.20L91.36 738.20L91.81 738.19L92.29 738.19L92.50 738.19L92.61 738.19L92.76 738.19L93.15 738.19L93.51 738.19L93.95 738.18L94.38 738.18L95.03 738.17L95.75 738.17L96.47 738.16L97.05 738.15L101.45 738.07L102.03 738.06L103.11 738.04L107.80 737.91L109.10 737.86L119.42 737.42L121.66 737.30L125.49 737.07L128.37 736.88L130.90 736.71L153.63 734.62L252.87 715.03" fill="none" stroke="#006400" stroke-width="0.72" stroke-linejoin="round"/>
<rect x="88.09" y="736.76" width="2.88" height="2.88" rx="0.4" fill="#006400"/><rect x="88.17" y="736.76" width="2.88" height="2.88" rx="0.4" fill="#006400"/><rect x="88.19" y="736.76" width="2.88" height="2.88" rx="0.4" fill="#006400"/><rect x="88.27" y="736.76" width="2.88" height="2.88" rx="0.4" fill="#006400"/><rect x="88.30" y="736.76" width="2.88" height="2.88" rx="0.4" fill="#006400"/><rect x="88.43" y="736.76" width="2.88" height="2.88" rx="0.4" fill="#006400"/><rect x="88.68" y="736.76" width="2.88" height="2.88" rx="0.4" fill="#006400"/><rect x="88.90" y="736.76" width="2.88" height="2.88" rx="0.4" fill="#006400"/><rect x="89.17" y="736.76" width="2.88" height="2.88" rx="0.4" fill="#006400"/><rect x="89.24" y="736.76" width="2.88" height="2.88" rx="0.4" fill="#006400"/><rect x="89.27" y="736.76" width="2.88" height="2.88" rx="0.4" fill="#006400"/><rect x="89.45" y="736.76" width="2.88" height="2.88" rx="0.4" fill="#006400"/><rect x="89.54" y="736.76" width="2.88" height="2.88" rx="0.4" fill="#006400"/><rect x="89.83" y="736.76" width="2.88" height="2.88" rx="0.4" fill="#006400"/><rect x="89.92" y="736.76" width="2.88" height="2.88" rx="0.4" fill="#006400"/><rect x="90.37" y="736.75" width="2.88" height="2.88" rx="0.4" fill="#006400"/><rect x="90.85" y="736.75" width="2.88" height="2.88" rx="0.4" fill="#006400"/><rect x="91.06" y="736.75" width="2.88" height="2.88" rx="0.4" fill="#006400"/><rect x="91.17" y="736.75" width="2.88" height="2.88" rx="0.4" fill="#006400"/><rect x="91.32" y="736.75" width="2.88" height="2.88" rx="0.4" fill="#006400"/><rect x="91.71" y="736.75" width="2.88" height="2.88" rx="0.4" fill="#006400"/><rect x="92.07" y="736.75" width="2.88" height="2.88" rx="0.4" fill="#006400"/><rect x="92.51" y="736.74" width="2.88" height="2.88" rx="0.4" fill="#006400"/><rect x="92.94" y="736.74" width="2.88" height="2.88" rx="0.4" fill="#006400"/><rect x="93.59" y="736.73" width="2.88" height="2.88" rx="0.4" fill="#006400"/><rect x="94.31" y="736.73" width="2.88" height="2.88" rx="0.4" fill="#006400"/><rect x="95.03" y="736.72" width="2.88" height="2.88" rx="0.4" fill="#006400"/><rect x="95.61" y="736.71" width="2.88" height="2.88" rx="0.4" fill="#006400"/><rect x="100.01" y="736.63" width="2.88" height="2.88" rx="0.4" fill="#006400"/><rect x="100.59" y="736.62" width="2.88" height="2.88" rx="0.4" fill="#006400"/><rect x="101.67" y="736.60" width="2.88" height="2.88" rx="0.4" fill="#006400"/><rect x="106.36" y="736.47" width="2.88" height="2.88" rx="0.4" fill="#006400"/><rect x="107.66" y="736.42" width="2.88" height="2.88" rx="0.4" fill="#006400"/><rect x="117.98" y="735.98" width="2.88" height="2.88" rx="0.4" fill="#006400"/><rect x="120.22" y="735.86" width="2.88" height="2.88" rx="0.4" fill="#006400"/><rect x="124.05" y="735.63" width="2.88" height="2.88" rx="0.4" fill="#006400"/><rect x="126.93" y="735.44" width="2.88" height="2.88" rx="0.4" fill="#006400"/><rect x="129.46" y="735.27" width="2.88" height="2.88" rx="0.4" fill="#006400"/><rect x="152.19" y="733.18" width="2.88" height="2.88" rx="0.4" fill="#006400"/><rect x="251.43" y="713.59" width="2.88" height="2.88" rx="0.4" fill="#006400"/>
<path d="M89.53 738.20L89.61 738.20L89.63 738.20L89.71 738.20L89.74 738.20L89.87 738.20L90.12 738.20L90.34 738.19L90.61 738.19L90.68 738.19L90.71 738.19L90.89 738.18L90.98 738.18L91.27 738.17L91.36 738.17L91.81 738.15L92.29 738.13L92.50 738.12L92.61 738.11L92.76 738.10L93.15 738.08L93.51 738.05L93.95 738.02L94.38 737.98L95.03 737.92L95.75 737.85L96.47 737.77L97.05 737.69L101.45 736.94L102.03 736.81L103.11 736.57L107.80 735.26L109.10 734.83L119.42 730.37L121.66 729.16L125.49 726.88L128.37 725.00L130.90 723.24L153.63 702.35L252.87 506.00" fill="none" stroke="#0000ff" stroke-width="0.72" stroke-linejoin="round"/>
<path d="M89.53 736.59L90.90 738.20L89.53 739.81L88.16 738.20Z" fill="#0000ff"/><path d="M89.61 736.59L90.98 738.20L89.61 739.81L88.24 738.20Z" fill="#0000ff"/><path d="M89.63 736.59L91.00 738.20L89.63 739.81L88.26 738.20Z" fill="#0000ff"/><path d="M89.71 736.59L91.08 738.20L89.71 739.81L88.34 738.20Z" fill="#0000ff"/><path d="M89.74 736.59L91.11 738.20L89.74 739.81L88.37 738.20Z" fill="#0000ff"/><path d="M89.87 736.59L91.24 738.20L89.87 739.81L88.50 738.20Z" fill="#0000ff"/><path d="M90.12 736.59L91.49 738.20L90.12 739.81L88.75 738.20Z" fill="#0000ff"/><path d="M90.34 736.58L91.71 738.19L90.34 739.80L88.97 738.19Z" fill="#0000ff"/><path d="M90.61 736.58L91.98 738.19L90.61 739.80L89.24 738.19Z" fill="#0000ff"/><path d="M90.68 736.58L92.05 738.19L90.68 739.80L89.31 738.19Z" fill="#0000ff"/><path d="M90.71 736.58L92.08 738.19L90.71 739.80L89.34 738.19Z" fill="#0000ff"/><path d="M90.89 736.57L92.26 738.18L90.89 739.79L89.52 738.18Z" fill="#0000ff"/><path d="M90.98 736.57L92.35 738.18L90.98 739.79L89.62 738.18Z" fill="#0000ff"/><path d="M91.27 736.56L92.64 738.17L91.27 739.78L89.90 738.17Z" fill="#0000ff"/><path d="M91.36 736.56L92.72 738.17L91.36 739.78L89.99 738.17Z" fill="#0000ff"/><path d="M91.81 736.54L93.18 738.15L91.81 739.76L90.44 738.15Z" fill="#0000ff"/><path d="M92.29 736.52L93.66 738.13L92.29 739.74L90.93 738.13Z" fill="#0000ff"/><path d="M92.50 736.51L93.87 738.12L92.50 739.73L91.13 738.12Z" fill="#0000ff"/><path d="M92.61 736.50L93.98 738.11L92.61 739.72L91.24 738.11Z" fill="#0000ff"/><path d="M92.76 736.49L94.12 738.10L92.76 739.71L91.39 738.10Z" fill="#0000ff"/><path d="M93.15 736.47L94.52 738.08L93.15 739.69L91.78 738.08Z" fill="#0000ff"/><path d="M93.51 736.44L94.88 738.05L93.51 739.66L92.15 738.05Z" fill="#0000ff"/><path d="M93.95 736.41L95.32 738.02L93.95 739.63L92.58 738.02Z" fill="#0000ff"/><path d="M94.38 736.37L95.75 737.98L94.38 739.59L93.01 737.98Z" fill="#0000ff"/><path d="M95.03 736.31L96.40 737.92L95.03 739.53L93.66 737.92Z" fill="#0000ff"/><path d="M95.75 736.24L97.12 737.85L95.75 739.46L94.38 737.85Z" fill="#0000ff"/><path d="M96.47 736.16L97.84 737.77L96.47 739.38L95.10 737.77Z" fill="#0000ff"/><path d="M97.05 736.08L98.42 737.69L97.05 739.30L95.68 737.69Z" fill="#0000ff"/><path d="M101.45 735.33L102.82 736.94L101.45 738.55L100.08 736.94Z" fill="#0000ff"/><path d="M102.03 735.20L103.40 736.81L102.03 738.42L100.66 736.81Z" fill="#0000ff"/><path d="M103.11 734.96L104.48 736.57L103.11 738.18L101.74 736.57Z" fill="#0000ff"/><path d="M107.80 733.65L109.17 735.26L107.80 736.87L106.43 735.26Z" fill="#0000ff"/><path d="M109.10 733.22L110.47 734.83L109.10 736.44L107.73 734.83Z" fill="#0000ff"/><path d="M119.42 728.76L120.79 730.37L119.42 731.98L118.05 730.37Z" fill="#0000ff"/><path d="M121.66 727.55L123.03 729.16L121.66 730.77L120.29 729.16Z" fill="#0000ff"/><path d="M125.49 725.27L126.85 726.88L125.49 728.49L124.12 726.88Z" fill="#0000ff"/><path d="M128.37 723.39L129.74 725.00L128.37 726.61L127.00 725.00Z" fill="#0000ff"/><path d="M130.90 721.63L132.27 723.24L130.90 724.85L129.53 723.24Z" fill="#0000ff"/><path d="M153.63 700.74L155.00 702.35L153.63 703.96L152.26 702.35Z" fill="#0000ff"/><path d="M252.87 504.39L254.23 506.00L252.87 507.61L251.50 506.00Z" fill="#0000ff"/>
</g>
<text x="82.30" y="742.20" font-size="12" text-anchor="end" fill="#000" stroke="#000" stroke-width="0.132" font-family="Liberation Serif, serif">0</text>
<text x="43.70" y="708.54" font-size="12" text-anchor="end" fill="#000" stroke="#000" stroke-width="0.132" font-family="Liberation Serif, serif">2.</text><path d="M46.90 701.94L53.10 708.14M46.90 708.14L53.10 701.94" stroke="#000" stroke-width="0.85" fill="none"/><text x="56.20" y="708.54" font-size="12" text-anchor="start" fill="#000" stroke="#000" stroke-width="0.132" font-family="Liberation Serif, serif" textLength="11.20" lengthAdjust="spacingAndGlyphs">10</text><text x="67.20" y="703.14" font-size="8.3" text-anchor="start" fill="#000" stroke="#000" stroke-width="0.091" font-family="Liberation Serif, serif" textLength="15.30" lengthAdjust="spacingAndGlyphs">−13</text>
<text x="43.70" y="673.78" font-size="12" text-anchor="end" fill="#000" stroke="#000" stroke-width="0.132" font-family="Liberation Serif, serif">4.</text><path d="M46.90 667.18L53.10 673.38M46.90 673.38L53.10 667.18" stroke="#000" stroke-width="0.85" fill="none"/><text x="56.20" y="673.78" font-size="12" text-anchor="start" fill="#000" stroke="#000" stroke-width="0.132" font-family="Liberation Serif, serif" textLength="11.20" lengthAdjust="spacingAndGlyphs">10</text><text x="67.20" y="668.38" font-size="8.3" text-anchor="start" fill="#000" stroke="#000" stroke-width="0.091" font-family="Liberation Serif, serif" textLength="15.30" lengthAdjust="spacingAndGlyphs">−13</text>
<text x="43.70" y="639.02" font-size="12" text-anchor="end" fill="#000" stroke="#000" stroke-width="0.132" font-family="Liberation Serif, serif">6.</text><path d="M46.90 632.42L53.10 638.62M46.90 638.62L53.10 632.42" stroke="#000" stroke-width="0.85" fill="none"/><text x="56.20" y="639.02" font-size="12" text-anchor="start" fill="#000" stroke="#000" stroke-width="0.132" font-family="Liberation Serif, serif" textLength="11.20" lengthAdjust="spacingAndGlyphs">10</text><text x="67.20" y="633.62" font-size="8.3" text-anchor="start" fill="#000" stroke="#000" stroke-width="0.091" font-family="Liberation Serif, serif" textLength="15.30" lengthAdjust="spacingAndGlyphs">−13</text>
<text x="43.70" y="604.26" font-size="12" text-anchor="end" fill="#000" stroke="#000" stroke-width="0.132" font-family="Liberation Serif, serif">8.</text><path d="M46.90 597.66L53.10 603.86M46.90 603.86L53.10 597.66" stroke="#000" stroke-width="0.85" fill="none"/><text x="56.20" y="604.26" font-size="12" text-anchor="start" fill="#000" stroke="#000" stroke-width="0.132" font-family="Liberation Serif, serif" textLength="11.20" lengthAdjust="spacingAndGlyphs">10</text><text x="67.20" y="598.86" font-size="8.3" text-anchor="start" fill="#000" stroke="#000" stroke-width="0.091" font-family="Liberation Serif, serif" textLength="15.30" lengthAdjust="spacingAndGlyphs">−13</text>
<text x="43.70" y="569.50" font-size="12" text-anchor="end" fill="#000" stroke="#000" stroke-width="0.132" font-family="Liberation Serif, serif">1.</text><path d="M46.90 562.90L53.10 569.10M46.90 569.10L53.10 562.90" stroke="#000" stroke-width="0.85" fill="none"/><text x="56.20" y="569.50" font-size="12" text-anchor="start" fill="#000" stroke="#000" stroke-width="0.132" font-family="Liberation Serif, serif" textLength="11.20" lengthAdjust="spacingAndGlyphs">10</text><text x="67.20" y="564.10" font-size="8.3" text-anchor="start" fill="#000" stroke="#000" stroke-width="0.091" font-family="Liberation Serif, serif" textLength="15.30" lengthAdjust="spacingAndGlyphs">−12</text>
<text x="43.70" y="534.74" font-size="12" text-anchor="end" fill="#000" stroke="#000" stroke-width="0.132" font-family="Liberation Serif, serif">1.2</text><path d="M46.90 528.14L53.10 534.34M46.90 534.34L53.10 528.14" stroke="#000" stroke-width="0.85" fill="none"/><text x="56.20" y="534.74" font-size="12" text-anchor="start" fill="#000" stroke="#000" stroke-width="0.132" font-family="Liberation Serif, serif" textLength="11.20" lengthAdjust="spacingAndGlyphs">10</text><text x="67.20" y="529.34" font-size="8.3" text-anchor="start" fill="#000" stroke="#000" stroke-width="0.091" font-family="Liberation Serif, serif" textLength="15.30" lengthAdjust="spacingAndGlyphs">−12</text>
<text x="89.40" y="758.00" font-size="8.549999999999999" text-anchor="middle" fill="#000" stroke="#000" stroke-width="0.094" font-family="Liberation Serif, serif">0</text><text x="106.79" y="760.10" font-size="9.0" text-anchor="start" fill="#000" stroke="#000" stroke-width="0.099" font-family="Liberation Serif, serif">5.</text><path d="M115.89 755.20L120.29 759.60M115.89 759.60L120.29 755.20" stroke="#000" stroke-width="0.7" fill="none"/><text x="124.09" y="760.10" font-size="9.0" text-anchor="start" fill="#000" stroke="#000" stroke-width="0.099" font-family="Liberation Serif, serif" textLength="8.80" lengthAdjust="spacingAndGlyphs">10</text><text x="132.99" y="755.70" font-size="6.4799999999999995" text-anchor="start" fill="#000" stroke="#000" stroke-width="0.071" font-family="Liberation Serif, serif" textLength="10.80" lengthAdjust="spacingAndGlyphs">−12</text><text x="176.76" y="760.10" font-size="9.0" text-anchor="start" fill="#000" stroke="#000" stroke-width="0.099" font-family="Liberation Serif, serif">1.5</text><path d="M190.26 755.20L194.66 759.60M190.26 759.60L194.66 755.20" stroke="#000" stroke-width="0.7" fill="none"/><text x="198.46" y="760.10" font-size="9.0" text-anchor="start" fill="#000" stroke="#000" stroke-width="0.099" font-family="Liberation Serif, serif" textLength="8.80" lengthAdjust="spacingAndGlyphs">10</text><text x="207.36" y="755.70" font-size="6.4799999999999995" text-anchor="start" fill="#000" stroke="#000" stroke-width="0.071" font-family="Liberation Serif, serif" textLength="10.80" lengthAdjust="spacingAndGlyphs">−11</text><text x="234.49" y="760.10" font-size="9.0" text-anchor="start" fill="#000" stroke="#000" stroke-width="0.099" font-family="Liberation Serif, serif">2.3</text><path d="M247.99 755.20L252.39 759.60M247.99 759.60L252.39 755.20" stroke="#000" stroke-width="0.7" fill="none"/><text x="256.19" y="760.10" font-size="9.0" text-anchor="start" fill="#000" stroke="#000" stroke-width="0.099" font-family="Liberation Serif, serif" textLength="8.80" lengthAdjust="spacingAndGlyphs">10</text><text x="265.09" y="755.70" font-size="6.4799999999999995" text-anchor="start" fill="#000" stroke="#000" stroke-width="0.071" font-family="Liberation Serif, serif" textLength="10.80" lengthAdjust="spacingAndGlyphs">−11</text>
<text x="147.90" y="785.60" font-size="18.5" text-anchor="start" fill="#000" stroke="#000" stroke-width="0.203" font-family="Liberation Serif, serif">M</text><path d="M165.20 789.00L170.70 772.20" stroke="#000" stroke-width="1.0" fill="none"/><text x="171.90" y="785.60" font-size="18.5" text-anchor="start" fill="#000" stroke="#000" stroke-width="0.203" font-family="Liberation Serif, serif" font-style="italic">D</text><text x="185.40" y="788.70" font-size="12.9" text-anchor="start" fill="#000" stroke="#000" stroke-width="0.142" font-family="Liberation Serif, serif" font-style="italic">d</text>
<g transform="translate(15.5 687.9) rotate(-90)"><text x="0.00" y="0.00" font-size="17.2" text-anchor="start" fill="#000" stroke="#000" stroke-width="0.189" font-family="Liberation Serif, serif" textLength="97.10" lengthAdjust="spacingAndGlyphs">Magnification</text><text x="107.00" y="-0.40" font-size="17.2" text-anchor="start" fill="#000" stroke="#000" stroke-width="0.189" font-family="Liberation Serif, serif" font-style="italic">μ</text><text x="116.20" y="2.70" font-size="11.8" text-anchor="start" fill="#000" stroke="#000" stroke-width="0.130" font-family="Liberation Serif, serif">2</text><text x="126.30" y="2.70" font-size="12" text-anchor="start" fill="#000" stroke="#000" stroke-width="0.132" font-family="Liberation Serif, serif" font-style="italic">p</text></g>
<g transform="translate(179.40 534.60) scale(0.0135)" fill="none" stroke="#0000ff" stroke-linecap="round" stroke-linejoin="round"><path d="M 70 -430 C 40 -540 130 -640 264 -672 C 350 -695 440 -705 519 -700 C 680 -690 810 -600 838 -420 C 860 -280 790 -130 650 -60 C 560 -15 400 0 250 -10 C 150 -15 50 -40 -5 -85" stroke-width="52"/><path d="M 388 -668 L 222 -55" stroke-width="98"/><path d="M 745 -625 C 820 -540 850 -420 838 -330 C 825 -250 780 -160 690 -90" stroke-width="92"/><circle cx="78" cy="-425" r="28" fill="#0000ff" stroke-width="40"/></g><text x="193.95" y="534.60" font-size="13.5" text-anchor="start" fill="#0000ff" font-family="Liberation Serif, serif">=</text><text x="205.65" y="534.60" font-size="14.175" text-anchor="start" fill="#0000ff" font-family="Liberation Serif, serif" textLength="30.38" lengthAdjust="spacingAndGlyphs">0.005</text>
<g transform="translate(136.30 730.00) scale(0.0135)" fill="none" stroke="#006400" stroke-linecap="round" stroke-linejoin="round"><path d="M 70 -430 C 40 -540 130 -640 264 -672 C 350 -695 440 -705 519 -700 C 680 -690 810 -600 838 -420 C 860 -280 790 -130 650 -60 C 560 -15 400 0 250 -10 C 150 -15 50 -40 -5 -85" stroke-width="52"/><path d="M 388 -668 L 222 -55" stroke-width="98"/><path d="M 745 -625 C 820 -540 850 -420 838 -330 C 825 -250 780 -160 690 -90" stroke-width="92"/><circle cx="78" cy="-425" r="28" fill="#006400" stroke-width="40"/></g><text x="151.65" y="730.00" font-size="13.5" text-anchor="start" fill="#006400" font-family="Liberation Serif, serif">=</text><text x="162.55" y="730.00" font-size="14.175" text-anchor="start" fill="#006400" font-family="Liberation Serif, serif" textLength="23.62" lengthAdjust="spacingAndGlyphs">0.05</text>
<g transform="translate(205.40 733.70) scale(0.0135)" fill="none" stroke="#ff0000" stroke-linecap="round" stroke-linejoin="round"><path d="M 70 -430 C 40 -540 130 -640 264 -672 C 350 -695 440 -705 519 -700 C 680 -690 810 -600 838 -420 C 860 -280 790 -130 650 -60 C 560 -15 400 0 250 -10 C 150 -15 50 -40 -5 -85" stroke-width="52"/><path d="M 388 -668 L 222 -55" stroke-width="98"/><path d="M 745 -625 C 820 -540 850 -420 838 -330 C 825 -250 780 -160 690 -90" stroke-width="92"/><circle cx="78" cy="-425" r="28" fill="#ff0000" stroke-width="40"/></g><text x="220.35" y="733.70" font-size="13.5" text-anchor="start" fill="#ff0000" font-family="Liberation Serif, serif">=</text><text x="231.15" y="733.70" font-size="14.175" text-anchor="start" fill="#ff0000" font-family="Liberation Serif, serif" textLength="16.88" lengthAdjust="spacingAndGlyphs">0.5</text>
<path d="M415.7 492.8H568M415.7 492.8V751.3" stroke="#adadad" stroke-width="1" fill="none"/>
<path d="M415.2 751.3H568" stroke="#8c8c8c" stroke-width="1" fill="none"/>
<path d="M568 492.8V751.3" stroke="#c4c4c4" stroke-width="1" fill="none"/>
<path d="M419.00 487.3V498.3M419.00 745.8V756.8M425.47 492.8V496.2M425.47 747.9V751.3M431.94 492.8V496.2M431.94 747.9V751.3M438.41 492.8V496.2M438.41 747.9V751.3M444.88 492.8V496.2M444.88 747.9V751.3M451.35 487.3V498.3M451.35 745.8V756.8M457.82 492.8V496.2M457.82 747.9V751.3M464.29 492.8V496.2M464.29 747.9V751.3M470.76 492.8V496.2M470.76 747.9V751.3M477.23 492.8V496.2M477.23 747.9V751.3M483.70 492.8V496.2M483.70 747.9V751.3M490.17 492.8V496.2M490.17 747.9V751.3M496.64 492.8V496.2M496.64 747.9V751.3M503.11 492.8V496.2M503.11 747.9V751.3M509.58 492.8V496.2M509.58 747.9V751.3M516.05 487.3V498.3M516.05 745.8V756.8M522.52 492.8V496.2M522.52 747.9V751.3M528.99 492.8V496.2M528.99 747.9V751.3M535.46 492.8V496.2M535.46 747.9V751.3M541.93 492.8V496.2M541.93 747.9V751.3M548.40 492.8V496.2M548.40 747.9V751.3M554.87 492.8V496.2M554.87 747.9V751.3M561.34 492.8V496.2M561.34 747.9V751.3M567.81 487.3V498.3M567.81 745.8V756.8M415.7 492.80H418.7M565 492.80H568M411.7 622.05H418.7M565 622.05H572M415.7 751.30H418.7M565 751.30H568M415.7 729.76H418.7M565 729.76H568M415.7 708.22H418.7M565 708.22H568M415.7 686.67H418.7M565 686.67H568M415.7 665.13H418.7M565 665.13H568M415.7 643.59H418.7M565 643.59H568M415.7 600.51H418.7M565 600.51H568M415.7 578.97H418.7M565 578.97H568M415.7 557.42H418.7M565 557.42H568M415.7 535.88H418.7M565 535.88H568M415.7 514.34H418.7M565 514.34H568" stroke="#adadad" stroke-width="0.9" fill="none"/>
<clipPath id="c5"><rect x="415.3" y="492.40000000000003" width="153.10000000000002" height="259.29999999999995"/></clipPath>
<g clip-path="url(#c5)">
<path d="M419.12 519.80L419.19 519.80L419.20 519.80L419.28 519.80L419.30 519.80L419.42 519.80L419.65 519.80L419.84 519.80L420.09 519.80L420.15 519.80L420.17 519.80L420.33 519.80L420.42 519.80L420.68 519.80L420.75 519.80L421.16 519.80L421.59 519.80L421.78 519.80L421.88 519.80L422.01 519.80L422.36 519.80L422.69 519.80L423.08 519.80L423.46 519.80L424.05 519.80L424.69 519.80L425.34 519.80L425.86 519.80L429.80 519.80L430.32 519.80L431.29 519.80L435.50 519.80L436.66 519.80L445.92 519.80L447.92 519.80L451.35 519.80L453.94 519.80L456.20 519.80L476.58 519.80L565.55 519.80" fill="none" stroke="#0000ff" stroke-width="0.72" stroke-linejoin="round"/>
<path d="M419.12 518.19L420.48 519.80L419.12 521.41L417.75 519.80Z" fill="#0000ff"/><path d="M419.19 518.19L420.56 519.80L419.19 521.41L417.82 519.80Z" fill="#0000ff"/><path d="M419.20 518.19L420.57 519.80L419.20 521.41L417.84 519.80Z" fill="#0000ff"/><path d="M419.28 518.19L420.65 519.80L419.28 521.41L417.91 519.80Z" fill="#0000ff"/><path d="M419.30 518.19L420.67 519.80L419.30 521.41L417.94 519.80Z" fill="#0000ff"/><path d="M419.42 518.19L420.79 519.80L419.42 521.41L418.05 519.80Z" fill="#0000ff"/><path d="M419.65 518.19L421.02 519.80L419.65 521.41L418.28 519.80Z" fill="#0000ff"/><path d="M419.84 518.19L421.21 519.80L419.84 521.41L418.47 519.80Z" fill="#0000ff"/><path d="M420.09 518.19L421.46 519.80L420.09 521.41L418.72 519.80Z" fill="#0000ff"/><path d="M420.15 518.19L421.51 519.80L420.15 521.41L418.78 519.80Z" fill="#0000ff"/><path d="M420.17 518.19L421.54 519.80L420.17 521.41L418.81 519.80Z" fill="#0000ff"/><path d="M420.33 518.19L421.70 519.80L420.33 521.41L418.96 519.80Z" fill="#0000ff"/><path d="M420.42 518.19L421.79 519.80L420.42 521.41L419.05 519.80Z" fill="#0000ff"/><path d="M420.68 518.19L422.05 519.80L420.68 521.41L419.31 519.80Z" fill="#0000ff"/><path d="M420.75 518.19L422.12 519.80L420.75 521.41L419.38 519.80Z" fill="#0000ff"/><path d="M421.16 518.19L422.53 519.80L421.16 521.41L419.79 519.80Z" fill="#0000ff"/><path d="M421.59 518.19L422.96 519.80L421.59 521.41L420.23 519.80Z" fill="#0000ff"/><path d="M421.78 518.19L423.15 519.80L421.78 521.41L420.41 519.80Z" fill="#0000ff"/><path d="M421.88 518.19L423.25 519.80L421.88 521.41L420.51 519.80Z" fill="#0000ff"/><path d="M422.01 518.19L423.38 519.80L422.01 521.41L420.64 519.80Z" fill="#0000ff"/><path d="M422.36 518.19L423.73 519.80L422.36 521.41L421.00 519.80Z" fill="#0000ff"/><path d="M422.69 518.19L424.06 519.80L422.69 521.41L421.32 519.80Z" fill="#0000ff"/><path d="M423.08 518.19L424.44 519.80L423.08 521.41L421.71 519.80Z" fill="#0000ff"/><path d="M423.46 518.19L424.83 519.80L423.46 521.41L422.10 519.80Z" fill="#0000ff"/><path d="M424.05 518.19L425.42 519.80L424.05 521.41L422.68 519.80Z" fill="#0000ff"/><path d="M424.69 518.19L426.06 519.80L424.69 521.41L423.33 519.80Z" fill="#0000ff"/><path d="M425.34 518.19L426.71 519.80L425.34 521.41L423.97 519.80Z" fill="#0000ff"/><path d="M425.86 518.19L427.23 519.80L425.86 521.41L424.49 519.80Z" fill="#0000ff"/><path d="M429.80 518.19L431.17 519.80L429.80 521.41L428.44 519.80Z" fill="#0000ff"/><path d="M430.32 518.19L431.69 519.80L430.32 521.41L428.95 519.80Z" fill="#0000ff"/><path d="M431.29 518.19L432.66 519.80L431.29 521.41L429.92 519.80Z" fill="#0000ff"/><path d="M435.50 518.19L436.87 519.80L435.50 521.41L434.13 519.80Z" fill="#0000ff"/><path d="M436.66 518.19L438.03 519.80L436.66 521.41L435.29 519.80Z" fill="#0000ff"/><path d="M445.92 518.19L447.28 519.80L445.92 521.41L444.55 519.80Z" fill="#0000ff"/><path d="M447.92 518.19L449.29 519.80L447.92 521.41L446.55 519.80Z" fill="#0000ff"/><path d="M451.35 518.19L452.72 519.80L451.35 521.41L449.98 519.80Z" fill="#0000ff"/><path d="M453.94 518.19L455.31 519.80L453.94 521.41L452.57 519.80Z" fill="#0000ff"/><path d="M456.20 518.19L457.57 519.80L456.20 521.41L454.83 519.80Z" fill="#0000ff"/><path d="M476.58 518.19L477.95 519.80L476.58 521.41L475.21 519.80Z" fill="#0000ff"/><path d="M565.55 518.19L566.91 519.80L565.55 521.41L564.18 519.80Z" fill="#0000ff"/>
<path d="M419.12 708.90L419.19 708.90L419.20 708.90L419.28 708.90L419.30 708.90L419.42 708.90L419.65 708.90L419.84 708.90L420.09 708.90L420.15 708.90L420.17 708.90L420.33 708.90L420.42 708.90L420.68 708.90L420.75 708.90L421.16 708.90L421.59 708.90L421.78 708.90L421.88 708.90L422.01 708.90L422.36 708.90L422.69 708.90L423.08 708.90L423.46 708.90L424.05 708.90L424.69 708.90L425.34 708.90L425.86 708.90L429.80 708.90L430.32 708.90L431.29 708.90L435.50 708.90L436.66 708.90L445.92 708.90L447.92 708.90L451.35 708.90L453.94 708.90L456.20 708.90L476.58 708.90L565.55 708.90" fill="none" stroke="#006400" stroke-width="0.72" stroke-linejoin="round"/>
<rect x="417.68" y="707.46" width="2.88" height="2.88" rx="0.4" fill="#006400"/><rect x="417.75" y="707.46" width="2.88" height="2.88" rx="0.4" fill="#006400"/><rect x="417.76" y="707.46" width="2.88" height="2.88" rx="0.4" fill="#006400"/><rect x="417.84" y="707.46" width="2.88" height="2.88" rx="0.4" fill="#006400"/><rect x="417.86" y="707.46" width="2.88" height="2.88" rx="0.4" fill="#006400"/><rect x="417.98" y="707.46" width="2.88" height="2.88" rx="0.4" fill="#006400"/><rect x="418.21" y="707.46" width="2.88" height="2.88" rx="0.4" fill="#006400"/><rect x="418.40" y="707.46" width="2.88" height="2.88" rx="0.4" fill="#006400"/><rect x="418.65" y="707.46" width="2.88" height="2.88" rx="0.4" fill="#006400"/><rect x="418.71" y="707.46" width="2.88" height="2.88" rx="0.4" fill="#006400"/><rect x="418.73" y="707.46" width="2.88" height="2.88" rx="0.4" fill="#006400"/><rect x="418.89" y="707.46" width="2.88" height="2.88" rx="0.4" fill="#006400"/><rect x="418.98" y="707.46" width="2.88" height="2.88" rx="0.4" fill="#006400"/><rect x="419.24" y="707.46" width="2.88" height="2.88" rx="0.4" fill="#006400"/><rect x="419.31" y="707.46" width="2.88" height="2.88" rx="0.4" fill="#006400"/><rect x="419.72" y="707.46" width="2.88" height="2.88" rx="0.4" fill="#006400"/><rect x="420.15" y="707.46" width="2.88" height="2.88" rx="0.4" fill="#006400"/><rect x="420.34" y="707.46" width="2.88" height="2.88" rx="0.4" fill="#006400"/><rect x="420.44" y="707.46" width="2.88" height="2.88" rx="0.4" fill="#006400"/><rect x="420.57" y="707.46" width="2.88" height="2.88" rx="0.4" fill="#006400"/><rect x="420.92" y="707.46" width="2.88" height="2.88" rx="0.4" fill="#006400"/><rect x="421.25" y="707.46" width="2.88" height="2.88" rx="0.4" fill="#006400"/><rect x="421.64" y="707.46" width="2.88" height="2.88" rx="0.4" fill="#006400"/><rect x="422.02" y="707.46" width="2.88" height="2.88" rx="0.4" fill="#006400"/><rect x="422.61" y="707.46" width="2.88" height="2.88" rx="0.4" fill="#006400"/><rect x="423.25" y="707.46" width="2.88" height="2.88" rx="0.4" fill="#006400"/><rect x="423.90" y="707.46" width="2.88" height="2.88" rx="0.4" fill="#006400"/><rect x="424.42" y="707.46" width="2.88" height="2.88" rx="0.4" fill="#006400"/><rect x="428.36" y="707.46" width="2.88" height="2.88" rx="0.4" fill="#006400"/><rect x="428.88" y="707.46" width="2.88" height="2.88" rx="0.4" fill="#006400"/><rect x="429.85" y="707.46" width="2.88" height="2.88" rx="0.4" fill="#006400"/><rect x="434.06" y="707.46" width="2.88" height="2.88" rx="0.4" fill="#006400"/><rect x="435.22" y="707.46" width="2.88" height="2.88" rx="0.4" fill="#006400"/><rect x="444.48" y="707.46" width="2.88" height="2.88" rx="0.4" fill="#006400"/><rect x="446.48" y="707.46" width="2.88" height="2.88" rx="0.4" fill="#006400"/><rect x="449.91" y="707.46" width="2.88" height="2.88" rx="0.4" fill="#006400"/><rect x="452.50" y="707.46" width="2.88" height="2.88" rx="0.4" fill="#006400"/><rect x="454.76" y="707.46" width="2.88" height="2.88" rx="0.4" fill="#006400"/><rect x="475.14" y="707.46" width="2.88" height="2.88" rx="0.4" fill="#006400"/><rect x="564.11" y="707.46" width="2.88" height="2.88" rx="0.4" fill="#006400"/>
<path d="M419.12 727.80L419.19 727.80L419.20 727.80L419.28 727.80L419.30 727.80L419.42 727.80L419.65 727.80L419.84 727.80L420.09 727.80L420.15 727.80L420.17 727.80L420.33 727.80L420.42 727.80L420.68 727.80L420.75 727.80L421.16 727.80L421.59 727.80L421.78 727.80L421.88 727.80L422.01 727.80L422.36 727.80L422.69 727.80L423.08 727.80L423.46 727.80L424.05 727.80L424.69 727.80L425.34 727.80L425.86 727.80L429.80 727.80L430.32 727.80L431.29 727.80L435.50 727.80L436.66 727.80L445.92 727.80L447.92 727.80L451.35 727.80L453.94 727.80L456.20 727.80L476.58 727.80L565.55 727.80" fill="none" stroke="#ff0000" stroke-width="0.72" stroke-linejoin="round"/>
<circle cx="419.12" cy="727.80" r="1.60" fill="#ff0000"/><circle cx="419.19" cy="727.80" r="1.60" fill="#ff0000"/><circle cx="419.20" cy="727.80" r="1.60" fill="#ff0000"/><circle cx="419.28" cy="727.80" r="1.60" fill="#ff0000"/><circle cx="419.30" cy="727.80" r="1.60" fill="#ff0000"/><circle cx="419.42" cy="727.80" r="1.60" fill="#ff0000"/><circle cx="419.65" cy="727.80" r="1.60" fill="#ff0000"/><circle cx="419.84" cy="727.80" r="1.60" fill="#ff0000"/><circle cx="420.09" cy="727.80" r="1.60" fill="#ff0000"/><circle cx="420.15" cy="727.80" r="1.60" fill="#ff0000"/><circle cx="420.17" cy="727.80" r="1.60" fill="#ff0000"/><circle cx="420.33" cy="727.80" r="1.60" fill="#ff0000"/><circle cx="420.42" cy="727.80" r="1.60" fill="#ff0000"/><circle cx="420.68" cy="727.80" r="1.60" fill="#ff0000"/><circle cx="420.75" cy="727.80" r="1.60" fill="#ff0000"/><circle cx="421.16" cy="727.80" r="1.60" fill="#ff0000"/><circle cx="421.59" cy="727.80" r="1.60" fill="#ff0000"/><circle cx="421.78" cy="727.80" r="1.60" fill="#ff0000"/><circle cx="421.88" cy="727.80" r="1.60" fill="#ff0000"/><circle cx="422.01" cy="727.80" r="1.60" fill="#ff0000"/><circle cx="422.36" cy="727.80" r="1.60" fill="#ff0000"/><circle cx="422.69" cy="727.80" r="1.60" fill="#ff0000"/><circle cx="423.08" cy="727.80" r="1.60" fill="#ff0000"/><circle cx="423.46" cy="727.80" r="1.60" fill="#ff0000"/><circle cx="424.05" cy="727.80" r="1.60" fill="#ff0000"/><circle cx="424.69" cy="727.80" r="1.60" fill="#ff0000"/><circle cx="425.34" cy="727.80" r="1.60" fill="#ff0000"/><circle cx="425.86" cy="727.80" r="1.60" fill="#ff0000"/><circle cx="429.80" cy="727.80" r="1.60" fill="#ff0000"/><circle cx="430.32" cy="727.80" r="1.60" fill="#ff0000"/><circle cx="431.29" cy="727.80" r="1.60" fill="#ff0000"/><circle cx="435.50" cy="727.80" r="1.60" fill="#ff0000"/><circle cx="436.66" cy="727.80" r="1.60" fill="#ff0000"/><circle cx="445.92" cy="727.80" r="1.60" fill="#ff0000"/><circle cx="447.92" cy="727.80" r="1.60" fill="#ff0000"/><circle cx="451.35" cy="727.80" r="1.60" fill="#ff0000"/><circle cx="453.94" cy="727.80" r="1.60" fill="#ff0000"/><circle cx="456.20" cy="727.80" r="1.60" fill="#ff0000"/><circle cx="476.58" cy="727.80" r="1.60" fill="#ff0000"/><circle cx="565.55" cy="727.80" r="1.60" fill="#ff0000"/>
</g>
<text x="409.90" y="497.30" font-size="12.4" text-anchor="end" fill="#000" stroke="#000" stroke-width="0.136" font-family="Liberation Serif, serif" textLength="71.60" lengthAdjust="spacingAndGlyphs">1.0000000022</text>
<text x="409.90" y="626.30" font-size="12.4" text-anchor="end" fill="#000" stroke="#000" stroke-width="0.136" font-family="Liberation Serif, serif" textLength="71.60" lengthAdjust="spacingAndGlyphs">1.0000000010</text>
<text x="409.90" y="755.40" font-size="12.4" text-anchor="end" fill="#000" stroke="#000" stroke-width="0.136" font-family="Liberation Serif, serif" textLength="72.90" lengthAdjust="spacingAndGlyphs">0.9999999998</text>
<text x="419.00" y="770.70" font-size="8.549999999999999" text-anchor="middle" fill="#000" stroke="#000" stroke-width="0.094" font-family="Liberation Serif, serif">0</text><text x="495.15" y="772.40" font-size="9.0" text-anchor="start" fill="#000" stroke="#000" stroke-width="0.099" font-family="Liberation Serif, serif">1.5</text><path d="M508.65 767.50L513.05 771.90M508.65 771.90L513.05 767.50" stroke="#000" stroke-width="0.7" fill="none"/><text x="516.85" y="772.40" font-size="9.0" text-anchor="start" fill="#000" stroke="#000" stroke-width="0.099" font-family="Liberation Serif, serif" textLength="8.80" lengthAdjust="spacingAndGlyphs">10</text><text x="525.75" y="768.00" font-size="6.4799999999999995" text-anchor="start" fill="#000" stroke="#000" stroke-width="0.071" font-family="Liberation Serif, serif" textLength="10.80" lengthAdjust="spacingAndGlyphs">−11</text>
<text x="468.90" y="797.60" font-size="18.5" text-anchor="start" fill="#000" stroke="#000" stroke-width="0.203" font-family="Liberation Serif, serif">M</text><path d="M486.20 801.00L491.70 784.20" stroke="#000" stroke-width="1.0" fill="none"/><text x="492.90" y="797.60" font-size="18.5" text-anchor="start" fill="#000" stroke="#000" stroke-width="0.203" font-family="Liberation Serif, serif" font-style="italic">D</text><text x="506.40" y="800.70" font-size="12.9" text-anchor="start" fill="#000" stroke="#000" stroke-width="0.142" font-family="Liberation Serif, serif" font-style="italic">d</text>
<g transform="translate(474.80 513.90) scale(0.0135)" fill="none" stroke="#0000ff" stroke-linecap="round" stroke-linejoin="round"><path d="M 70 -430 C 40 -540 130 -640 264 -672 C 350 -695 440 -705 519 -700 C 680 -690 810 -600 838 -420 C 860 -280 790 -130 650 -60 C 560 -15 400 0 250 -10 C 150 -15 50 -40 -5 -85" stroke-width="52"/><path d="M 388 -668 L 222 -55" stroke-width="98"/><path d="M 745 -625 C 820 -540 850 -420 838 -330 C 825 -250 780 -160 690 -90" stroke-width="92"/><circle cx="78" cy="-425" r="28" fill="#0000ff" stroke-width="40"/></g><text x="489.35" y="513.90" font-size="13.5" text-anchor="start" fill="#0000ff" font-family="Liberation Serif, serif">=</text><text x="500.65" y="513.90" font-size="14.175" text-anchor="start" fill="#0000ff" font-family="Liberation Serif, serif" textLength="30.38" lengthAdjust="spacingAndGlyphs">0.005</text>
<g transform="translate(478.20 701.50) scale(0.0135)" fill="none" stroke="#006400" stroke-linecap="round" stroke-linejoin="round"><path d="M 70 -430 C 40 -540 130 -640 264 -672 C 350 -695 440 -705 519 -700 C 680 -690 810 -600 838 -420 C 860 -280 790 -130 650 -60 C 560 -15 400 0 250 -10 C 150 -15 50 -40 -5 -85" stroke-width="52"/><path d="M 388 -668 L 222 -55" stroke-width="98"/><path d="M 745 -625 C 820 -540 850 -420 838 -330 C 825 -250 780 -160 690 -90" stroke-width="92"/><circle cx="78" cy="-425" r="28" fill="#006400" stroke-width="40"/></g><text x="492.65" y="701.50" font-size="13.5" text-anchor="start" fill="#006400" font-family="Liberation Serif, serif">=</text><text x="504.25" y="701.50" font-size="14.175" text-anchor="start" fill="#006400" font-family="Liberation Serif, serif" textLength="23.62" lengthAdjust="spacingAndGlyphs">0.05</text>
<g transform="translate(481.30 745.40) scale(0.0135)" fill="none" stroke="#ff0000" stroke-linecap="round" stroke-linejoin="round"><path d="M 70 -430 C 40 -540 130 -640 264 -672 C 350 -695 440 -705 519 -700 C 680 -690 810 -600 838 -420 C 860 -280 790 -130 650 -60 C 560 -15 400 0 250 -10 C 150 -15 50 -40 -5 -85" stroke-width="52"/><path d="M 388 -668 L 222 -55" stroke-width="98"/><path d="M 745 -625 C 820 -540 850 -420 838 -330 C 825 -250 780 -160 690 -90" stroke-width="92"/><circle cx="78" cy="-425" r="28" fill="#ff0000" stroke-width="40"/></g><text x="495.75" y="745.40" font-size="13.5" text-anchor="start" fill="#ff0000" font-family="Liberation Serif, serif">=</text><text x="507.85" y="745.40" font-size="14.175" text-anchor="start" fill="#ff0000" font-family="Liberation Serif, serif" textLength="16.88" lengthAdjust="spacingAndGlyphs">0.5</text>
<g transform="translate(317.4 710.6) rotate(-90)"><text x="0.00" y="0.00" font-size="13.3" text-anchor="start" fill="#000" stroke="#000" stroke-width="0.146" font-family="Liberation Serif, serif" textLength="102.10" lengthAdjust="spacingAndGlyphs">Abs. magnification</text><text x="113.50" y="0.00" font-size="13.3" text-anchor="start" fill="#000" stroke="#000" stroke-width="0.146" font-family="Liberation Serif, serif" textLength="24.00" lengthAdjust="spacingAndGlyphs">ratio</text><path d="M143.30 -12.00L143.30 2.40" stroke="#000" stroke-width="0.9" fill="none"/><path d="M175.90 -12.00L175.90 2.40" stroke="#000" stroke-width="0.9" fill="none"/><path d="M150.90 -3.60L172.40 -3.60" stroke="#000" stroke-width="0.9" fill="none"/><text x="151.00" y="-12.60" font-size="13" text-anchor="start" fill="#000" stroke="#000" stroke-width="0.143" font-family="Liberation Serif, serif" font-style="italic">μ</text><text x="159.30" y="-9.90" font-size="9" text-anchor="start" fill="#000" stroke="#000" stroke-width="0.099" font-family="Liberation Serif, serif">1</text><text x="166.40" y="-9.70" font-size="9" text-anchor="start" fill="#000" stroke="#000" stroke-width="0.099" font-family="Liberation Serif, serif" font-style="italic">p</text><text x="152.10" y="10.20" font-size="13" text-anchor="start" fill="#000" stroke="#000" stroke-width="0.143" font-family="Liberation Serif, serif" font-style="italic">μ</text><text x="160.20" y="12.00" font-size="9" text-anchor="start" fill="#000" stroke="#000" stroke-width="0.099" font-family="Liberation Serif, serif">1</text><text x="166.50" y="12.20" font-size="9" text-anchor="start" fill="#000" stroke="#000" stroke-width="0.099" font-family="Liberation Serif, serif" font-style="italic">s</text></g>
<path d="M709.5 481.6H865.8M709.5 481.6V762.0" stroke="#8e8e8e" stroke-width="1" fill="none"/>
<path d="M709.0 762.0H868.8" stroke="#8e8e8e" stroke-width="1" fill="none"/>
<path d="M865.8 481.6V762.0" stroke="#8e8e8e" stroke-width="1" fill="none"/>
<path d="M712.30 476.1V487.1M712.30 756.5V767.5M718.91 481.6V485.0M718.91 758.6V762.0M725.52 481.6V485.0M725.52 758.6V762.0M732.13 481.6V485.0M732.13 758.6V762.0M738.74 481.6V485.0M738.74 758.6V762.0M745.35 476.1V487.1M745.35 756.5V767.5M751.96 481.6V485.0M751.96 758.6V762.0M758.57 481.6V485.0M758.57 758.6V762.0M765.18 481.6V485.0M765.18 758.6V762.0M771.79 481.6V485.0M771.79 758.6V762.0M778.40 481.6V485.0M778.40 758.6V762.0M785.01 481.6V485.0M785.01 758.6V762.0M791.62 481.6V485.0M791.62 758.6V762.0M798.23 481.6V485.0M798.23 758.6V762.0M804.84 481.6V485.0M804.84 758.6V762.0M811.45 476.1V487.1M811.45 756.5V767.5M818.06 481.6V485.0M818.06 758.6V762.0M824.67 481.6V485.0M824.67 758.6V762.0M831.28 481.6V485.0M831.28 758.6V762.0M837.89 481.6V485.0M837.89 758.6V762.0M844.50 481.6V485.0M844.50 758.6V762.0M851.11 481.6V485.0M851.11 758.6V762.0M857.72 481.6V485.0M857.72 758.6V762.0M864.33 476.1V487.1M864.33 756.5V767.5M705.0 481.60H713.0M862.3 481.60H870.3M705.0 622.30H713.0M862.3 622.30H870.3M705.0 748.20H713.0M862.3 748.20H870.3M709.5 499.10H712.5M862.8 499.10H865.8M709.5 516.60H712.5M862.8 516.60H865.8M709.5 534.10H712.5M862.8 534.10H865.8M709.5 551.60H712.5M862.8 551.60H865.8M709.5 569.10H712.5M862.8 569.10H865.8M709.5 586.60H712.5M862.8 586.60H865.8M709.5 604.10H712.5M862.8 604.10H865.8M709.5 621.60H712.5M862.8 621.60H865.8M709.5 639.10H712.5M862.8 639.10H865.8M709.5 656.60H712.5M862.8 656.60H865.8M709.5 674.10H712.5M862.8 674.10H865.8M709.5 691.60H712.5M862.8 691.60H865.8M709.5 709.10H712.5M862.8 709.10H865.8M709.5 726.60H712.5M862.8 726.60H865.8M709.5 744.10H712.5M862.8 744.10H865.8" stroke="#8e8e8e" stroke-width="0.9" fill="none"/>
<clipPath id="c6"><rect x="709.1" y="481.20000000000005" width="157.09999999999997" height="281.2"/></clipPath>
<g clip-path="url(#c6)">
<path d="M712.42 521.00L712.49 521.00L712.51 521.00L712.58 521.00L712.61 521.00L712.73 521.01L712.96 521.01L713.16 521.01L713.41 521.02L713.47 521.02L713.50 521.02L713.66 521.02L713.75 521.02L714.02 521.02L714.09 521.03L714.50 521.03L714.95 521.04L715.14 521.04L715.24 521.04L715.37 521.04L715.74 521.05L716.07 521.05L716.46 521.06L716.86 521.06L717.46 521.07L718.12 521.08L718.78 521.09L719.31 521.10L723.34 521.15L723.87 521.16L724.86 521.18L729.16 521.24L730.35 521.25L739.80 521.38L741.85 521.41L745.35 521.46L747.99 521.50L750.31 521.53L771.13 521.82L862.02 523.10" fill="none" stroke="#ff0000" stroke-width="0.72" stroke-linejoin="round"/>
<circle cx="712.42" cy="521.00" r="1.60" fill="#ff0000"/><circle cx="712.49" cy="521.00" r="1.60" fill="#ff0000"/><circle cx="712.51" cy="521.00" r="1.60" fill="#ff0000"/><circle cx="712.58" cy="521.00" r="1.60" fill="#ff0000"/><circle cx="712.61" cy="521.00" r="1.60" fill="#ff0000"/><circle cx="712.73" cy="521.01" r="1.60" fill="#ff0000"/><circle cx="712.96" cy="521.01" r="1.60" fill="#ff0000"/><circle cx="713.16" cy="521.01" r="1.60" fill="#ff0000"/><circle cx="713.41" cy="521.02" r="1.60" fill="#ff0000"/><circle cx="713.47" cy="521.02" r="1.60" fill="#ff0000"/><circle cx="713.50" cy="521.02" r="1.60" fill="#ff0000"/><circle cx="713.66" cy="521.02" r="1.60" fill="#ff0000"/><circle cx="713.75" cy="521.02" r="1.60" fill="#ff0000"/><circle cx="714.02" cy="521.02" r="1.60" fill="#ff0000"/><circle cx="714.09" cy="521.03" r="1.60" fill="#ff0000"/><circle cx="714.50" cy="521.03" r="1.60" fill="#ff0000"/><circle cx="714.95" cy="521.04" r="1.60" fill="#ff0000"/><circle cx="715.14" cy="521.04" r="1.60" fill="#ff0000"/><circle cx="715.24" cy="521.04" r="1.60" fill="#ff0000"/><circle cx="715.37" cy="521.04" r="1.60" fill="#ff0000"/><circle cx="715.74" cy="521.05" r="1.60" fill="#ff0000"/><circle cx="716.07" cy="521.05" r="1.60" fill="#ff0000"/><circle cx="716.46" cy="521.06" r="1.60" fill="#ff0000"/><circle cx="716.86" cy="521.06" r="1.60" fill="#ff0000"/><circle cx="717.46" cy="521.07" r="1.60" fill="#ff0000"/><circle cx="718.12" cy="521.08" r="1.60" fill="#ff0000"/><circle cx="718.78" cy="521.09" r="1.60" fill="#ff0000"/><circle cx="719.31" cy="521.10" r="1.60" fill="#ff0000"/><circle cx="723.34" cy="521.15" r="1.60" fill="#ff0000"/><circle cx="723.87" cy="521.16" r="1.60" fill="#ff0000"/><circle cx="724.86" cy="521.18" r="1.60" fill="#ff0000"/><circle cx="729.16" cy="521.24" r="1.60" fill="#ff0000"/><circle cx="730.35" cy="521.25" r="1.60" fill="#ff0000"/><circle cx="739.80" cy="521.38" r="1.60" fill="#ff0000"/><circle cx="741.85" cy="521.41" r="1.60" fill="#ff0000"/><circle cx="745.35" cy="521.46" r="1.60" fill="#ff0000"/><circle cx="747.99" cy="521.50" r="1.60" fill="#ff0000"/><circle cx="750.31" cy="521.53" r="1.60" fill="#ff0000"/><circle cx="771.13" cy="521.82" r="1.60" fill="#ff0000"/><circle cx="862.02" cy="523.10" r="1.60" fill="#ff0000"/>
<path d="M712.42 520.42L712.49 520.43L712.51 520.43L712.58 520.44L712.61 520.45L712.73 520.47L712.96 520.50L713.16 520.53L713.41 520.57L713.47 520.58L713.50 520.58L713.66 520.61L713.75 520.62L714.02 520.66L714.09 520.67L714.50 520.74L714.95 520.80L715.14 520.83L715.24 520.85L715.37 520.87L715.74 520.92L716.07 520.98L716.46 521.04L716.86 521.10L717.46 521.19L718.12 521.29L718.78 521.39L719.31 521.47L723.34 522.08L723.87 522.17L724.86 522.32L729.16 522.97L730.35 523.15L739.80 524.60L741.85 524.91L745.35 525.44L747.99 525.85L750.31 526.20L771.13 529.38L862.02 543.25" fill="none" stroke="#006400" stroke-width="0.72" stroke-linejoin="round"/>
<rect x="710.98" y="518.98" width="2.88" height="2.88" rx="0.4" fill="#006400"/><rect x="711.05" y="518.99" width="2.88" height="2.88" rx="0.4" fill="#006400"/><rect x="711.07" y="518.99" width="2.88" height="2.88" rx="0.4" fill="#006400"/><rect x="711.14" y="519.00" width="2.88" height="2.88" rx="0.4" fill="#006400"/><rect x="711.17" y="519.01" width="2.88" height="2.88" rx="0.4" fill="#006400"/><rect x="711.29" y="519.03" width="2.88" height="2.88" rx="0.4" fill="#006400"/><rect x="711.52" y="519.06" width="2.88" height="2.88" rx="0.4" fill="#006400"/><rect x="711.72" y="519.09" width="2.88" height="2.88" rx="0.4" fill="#006400"/><rect x="711.97" y="519.13" width="2.88" height="2.88" rx="0.4" fill="#006400"/><rect x="712.03" y="519.14" width="2.88" height="2.88" rx="0.4" fill="#006400"/><rect x="712.06" y="519.14" width="2.88" height="2.88" rx="0.4" fill="#006400"/><rect x="712.22" y="519.17" width="2.88" height="2.88" rx="0.4" fill="#006400"/><rect x="712.31" y="519.18" width="2.88" height="2.88" rx="0.4" fill="#006400"/><rect x="712.58" y="519.22" width="2.88" height="2.88" rx="0.4" fill="#006400"/><rect x="712.65" y="519.23" width="2.88" height="2.88" rx="0.4" fill="#006400"/><rect x="713.06" y="519.30" width="2.88" height="2.88" rx="0.4" fill="#006400"/><rect x="713.51" y="519.36" width="2.88" height="2.88" rx="0.4" fill="#006400"/><rect x="713.70" y="519.39" width="2.88" height="2.88" rx="0.4" fill="#006400"/><rect x="713.80" y="519.41" width="2.88" height="2.88" rx="0.4" fill="#006400"/><rect x="713.93" y="519.43" width="2.88" height="2.88" rx="0.4" fill="#006400"/><rect x="714.30" y="519.48" width="2.88" height="2.88" rx="0.4" fill="#006400"/><rect x="714.63" y="519.54" width="2.88" height="2.88" rx="0.4" fill="#006400"/><rect x="715.02" y="519.60" width="2.88" height="2.88" rx="0.4" fill="#006400"/><rect x="715.42" y="519.66" width="2.88" height="2.88" rx="0.4" fill="#006400"/><rect x="716.02" y="519.75" width="2.88" height="2.88" rx="0.4" fill="#006400"/><rect x="716.68" y="519.85" width="2.88" height="2.88" rx="0.4" fill="#006400"/><rect x="717.34" y="519.95" width="2.88" height="2.88" rx="0.4" fill="#006400"/><rect x="717.87" y="520.03" width="2.88" height="2.88" rx="0.4" fill="#006400"/><rect x="721.90" y="520.64" width="2.88" height="2.88" rx="0.4" fill="#006400"/><rect x="722.43" y="520.73" width="2.88" height="2.88" rx="0.4" fill="#006400"/><rect x="723.42" y="520.88" width="2.88" height="2.88" rx="0.4" fill="#006400"/><rect x="727.72" y="521.53" width="2.88" height="2.88" rx="0.4" fill="#006400"/><rect x="728.91" y="521.71" width="2.88" height="2.88" rx="0.4" fill="#006400"/><rect x="738.36" y="523.16" width="2.88" height="2.88" rx="0.4" fill="#006400"/><rect x="740.41" y="523.47" width="2.88" height="2.88" rx="0.4" fill="#006400"/><rect x="743.91" y="524.00" width="2.88" height="2.88" rx="0.4" fill="#006400"/><rect x="746.55" y="524.41" width="2.88" height="2.88" rx="0.4" fill="#006400"/><rect x="748.87" y="524.76" width="2.88" height="2.88" rx="0.4" fill="#006400"/><rect x="769.69" y="527.94" width="2.88" height="2.88" rx="0.4" fill="#006400"/><rect x="860.58" y="541.81" width="2.88" height="2.88" rx="0.4" fill="#006400"/>
<path d="M712.42 513.98L712.49 514.10L712.51 514.12L712.58 514.24L712.61 514.28L712.73 514.47L712.96 514.83L713.16 515.13L713.41 515.52L713.47 515.62L713.50 515.66L713.66 515.91L713.75 516.05L714.02 516.46L714.09 516.58L714.50 517.22L714.95 517.91L715.14 518.21L715.24 518.36L715.37 518.57L715.74 519.13L716.07 519.65L716.46 520.26L716.86 520.88L717.46 521.80L718.12 522.82L718.78 523.85L719.31 524.67L723.34 530.93L723.87 531.75L724.86 533.29L729.16 539.95L730.35 541.80L739.80 556.46L741.85 559.64L745.35 565.08L747.99 569.18L750.31 572.77L771.13 605.07L862.02 746.09" fill="none" stroke="#0000ff" stroke-width="0.72" stroke-linejoin="round"/>
<path d="M712.42 512.37L713.79 513.98L712.42 515.59L711.05 513.98Z" fill="#0000ff"/><path d="M712.49 512.49L713.86 514.10L712.49 515.71L711.12 514.10Z" fill="#0000ff"/><path d="M712.51 512.51L713.88 514.12L712.51 515.73L711.14 514.12Z" fill="#0000ff"/><path d="M712.58 512.63L713.95 514.24L712.58 515.85L711.22 514.24Z" fill="#0000ff"/><path d="M712.61 512.67L713.98 514.28L712.61 515.89L711.24 514.28Z" fill="#0000ff"/><path d="M712.73 512.86L714.10 514.47L712.73 516.08L711.36 514.47Z" fill="#0000ff"/><path d="M712.96 513.22L714.33 514.83L712.96 516.44L711.59 514.83Z" fill="#0000ff"/><path d="M713.16 513.52L714.53 515.13L713.16 516.74L711.79 515.13Z" fill="#0000ff"/><path d="M713.41 513.91L714.78 515.52L713.41 517.13L712.04 515.52Z" fill="#0000ff"/><path d="M713.47 514.01L714.84 515.62L713.47 517.23L712.10 515.62Z" fill="#0000ff"/><path d="M713.50 514.05L714.87 515.66L713.50 517.27L712.13 515.66Z" fill="#0000ff"/><path d="M713.66 514.30L715.03 515.91L713.66 517.52L712.29 515.91Z" fill="#0000ff"/><path d="M713.75 514.44L715.12 516.05L713.75 517.66L712.38 516.05Z" fill="#0000ff"/><path d="M714.02 514.85L715.38 516.46L714.02 518.07L712.65 516.46Z" fill="#0000ff"/><path d="M714.09 514.97L715.46 516.58L714.09 518.19L712.72 516.58Z" fill="#0000ff"/><path d="M714.50 515.61L715.87 517.22L714.50 518.83L713.14 517.22Z" fill="#0000ff"/><path d="M714.95 516.30L716.32 517.91L714.95 519.52L713.58 517.91Z" fill="#0000ff"/><path d="M715.14 516.60L716.51 518.21L715.14 519.82L713.77 518.21Z" fill="#0000ff"/><path d="M715.24 516.75L716.61 518.36L715.24 519.97L713.87 518.36Z" fill="#0000ff"/><path d="M715.37 516.96L716.74 518.57L715.37 520.18L714.01 518.57Z" fill="#0000ff"/><path d="M715.74 517.52L717.11 519.13L715.74 520.74L714.37 519.13Z" fill="#0000ff"/><path d="M716.07 518.04L717.44 519.65L716.07 521.26L714.70 519.65Z" fill="#0000ff"/><path d="M716.46 518.65L717.83 520.26L716.46 521.87L715.10 520.26Z" fill="#0000ff"/><path d="M716.86 519.27L718.23 520.88L716.86 522.49L715.49 520.88Z" fill="#0000ff"/><path d="M717.46 520.19L718.82 521.80L717.46 523.41L716.09 521.80Z" fill="#0000ff"/><path d="M718.12 521.21L719.49 522.82L718.12 524.43L716.75 522.82Z" fill="#0000ff"/><path d="M718.78 522.24L720.15 523.85L718.78 525.46L717.41 523.85Z" fill="#0000ff"/><path d="M719.31 523.06L720.68 524.67L719.31 526.28L717.94 524.67Z" fill="#0000ff"/><path d="M723.34 529.32L724.71 530.93L723.34 532.54L721.97 530.93Z" fill="#0000ff"/><path d="M723.87 530.14L725.24 531.75L723.87 533.36L722.50 531.75Z" fill="#0000ff"/><path d="M724.86 531.68L726.23 533.29L724.86 534.90L723.49 533.29Z" fill="#0000ff"/><path d="M729.16 538.34L730.52 539.95L729.16 541.56L727.79 539.95Z" fill="#0000ff"/><path d="M730.35 540.19L731.71 541.80L730.35 543.41L728.98 541.80Z" fill="#0000ff"/><path d="M739.80 554.85L741.17 556.46L739.80 558.07L738.43 556.46Z" fill="#0000ff"/><path d="M741.85 558.03L743.22 559.64L741.85 561.25L740.48 559.64Z" fill="#0000ff"/><path d="M745.35 563.47L746.72 565.08L745.35 566.69L743.98 565.08Z" fill="#0000ff"/><path d="M747.99 567.57L749.36 569.18L747.99 570.79L746.63 569.18Z" fill="#0000ff"/><path d="M750.31 571.16L751.68 572.77L750.31 574.38L748.94 572.77Z" fill="#0000ff"/><path d="M771.13 603.46L772.50 605.07L771.13 606.68L769.76 605.07Z" fill="#0000ff"/><path d="M862.02 744.48L863.38 746.09L862.02 747.70L860.65 746.09Z" fill="#0000ff"/>
</g>
<text x="703.30" y="485.90" font-size="12.4" text-anchor="end" fill="#000" stroke="#000" stroke-width="0.136" font-family="Liberation Serif, serif" textLength="66.30" lengthAdjust="spacingAndGlyphs">540.0979940</text>
<text x="703.30" y="626.60" font-size="12.4" text-anchor="end" fill="#000" stroke="#000" stroke-width="0.136" font-family="Liberation Serif, serif" textLength="66.30" lengthAdjust="spacingAndGlyphs">540.0979939</text>
<text x="703.30" y="752.50" font-size="12.4" text-anchor="end" fill="#000" stroke="#000" stroke-width="0.136" font-family="Liberation Serif, serif" textLength="66.30" lengthAdjust="spacingAndGlyphs">540.0979938</text>
<text x="712.30" y="782.70" font-size="8.549999999999999" text-anchor="middle" fill="#000" stroke="#000" stroke-width="0.094" font-family="Liberation Serif, serif">0</text><text x="790.55" y="784.40" font-size="9.0" text-anchor="start" fill="#000" stroke="#000" stroke-width="0.099" font-family="Liberation Serif, serif">1.5</text><path d="M804.05 779.50L808.45 783.90M804.05 783.90L808.45 779.50" stroke="#000" stroke-width="0.7" fill="none"/><text x="812.25" y="784.40" font-size="9.0" text-anchor="start" fill="#000" stroke="#000" stroke-width="0.099" font-family="Liberation Serif, serif" textLength="8.80" lengthAdjust="spacingAndGlyphs">10</text><text x="821.15" y="780.00" font-size="6.4799999999999995" text-anchor="start" fill="#000" stroke="#000" stroke-width="0.071" font-family="Liberation Serif, serif" textLength="10.80" lengthAdjust="spacingAndGlyphs">−11</text>
<text x="764.70" y="809.40" font-size="18.5" text-anchor="start" fill="#000" stroke="#000" stroke-width="0.203" font-family="Liberation Serif, serif">M</text><path d="M782.00 812.80L787.50 796.00" stroke="#000" stroke-width="1.0" fill="none"/><text x="788.70" y="809.40" font-size="18.5" text-anchor="start" fill="#000" stroke="#000" stroke-width="0.203" font-family="Liberation Serif, serif" font-style="italic">D</text><text x="802.20" y="812.50" font-size="12.9" text-anchor="start" fill="#000" stroke="#000" stroke-width="0.142" font-family="Liberation Serif, serif" font-style="italic">d</text>
<g transform="translate(776.80 512.50) scale(0.0135)" fill="none" stroke="#ff0000" stroke-linecap="round" stroke-linejoin="round"><path d="M 70 -430 C 40 -540 130 -640 264 -672 C 350 -695 440 -705 519 -700 C 680 -690 810 -600 838 -420 C 860 -280 790 -130 650 -60 C 560 -15 400 0 250 -10 C 150 -15 50 -40 -5 -85" stroke-width="52"/><path d="M 388 -668 L 222 -55" stroke-width="98"/><path d="M 745 -625 C 820 -540 850 -420 838 -330 C 825 -250 780 -160 690 -90" stroke-width="92"/><circle cx="78" cy="-425" r="28" fill="#ff0000" stroke-width="40"/></g><text x="791.35" y="512.50" font-size="13.5" text-anchor="start" fill="#ff0000" font-family="Liberation Serif, serif">=</text><text x="803.05" y="512.50" font-size="14.175" text-anchor="start" fill="#ff0000" font-family="Liberation Serif, serif" textLength="16.88" lengthAdjust="spacingAndGlyphs">0.5</text>
<g transform="translate(773.50 556.40) scale(0.0135)" fill="none" stroke="#006400" stroke-linecap="round" stroke-linejoin="round"><path d="M 70 -430 C 40 -540 130 -640 264 -672 C 350 -695 440 -705 519 -700 C 680 -690 810 -600 838 -420 C 860 -280 790 -130 650 -60 C 560 -15 400 0 250 -10 C 150 -15 50 -40 -5 -85" stroke-width="52"/><path d="M 388 -668 L 222 -55" stroke-width="98"/><path d="M 745 -625 C 820 -540 850 -420 838 -330 C 825 -250 780 -160 690 -90" stroke-width="92"/><circle cx="78" cy="-425" r="28" fill="#006400" stroke-width="40"/></g><text x="787.95" y="556.40" font-size="13.5" text-anchor="start" fill="#006400" font-family="Liberation Serif, serif">=</text><text x="799.25" y="556.40" font-size="14.175" text-anchor="start" fill="#006400" font-family="Liberation Serif, serif" textLength="23.62" lengthAdjust="spacingAndGlyphs">0.05</text>
<g transform="translate(769.70 714.60) scale(0.0135)" fill="none" stroke="#0000ff" stroke-linecap="round" stroke-linejoin="round"><path d="M 70 -430 C 40 -540 130 -640 264 -672 C 350 -695 440 -705 519 -700 C 680 -690 810 -600 838 -420 C 860 -280 790 -130 650 -60 C 560 -15 400 0 250 -10 C 150 -15 50 -40 -5 -85" stroke-width="52"/><path d="M 388 -668 L 222 -55" stroke-width="98"/><path d="M 745 -625 C 820 -540 850 -420 838 -330 C 825 -250 780 -160 690 -90" stroke-width="92"/><circle cx="78" cy="-425" r="28" fill="#0000ff" stroke-width="40"/></g><text x="784.25" y="714.60" font-size="13.5" text-anchor="start" fill="#0000ff" font-family="Liberation Serif, serif">=</text><text x="796.05" y="714.60" font-size="14.175" text-anchor="start" fill="#0000ff" font-family="Liberation Serif, serif" textLength="30.38" lengthAdjust="spacingAndGlyphs">0.005</text>
<g transform="translate(614.4 693.5) rotate(-90)"><text x="0.00" y="0.00" font-size="13.5" text-anchor="start" fill="#000" stroke="#000" stroke-width="0.148" font-family="Liberation Serif, serif" textLength="76.30" lengthAdjust="spacingAndGlyphs">Magnification</text><text x="87.10" y="0.00" font-size="13.5" text-anchor="start" fill="#000" stroke="#000" stroke-width="0.148" font-family="Liberation Serif, serif" textLength="24.10" lengthAdjust="spacingAndGlyphs">ratio</text><path d="M120.20 -3.05L141.50 -3.05" stroke="#000" stroke-width="0.9" fill="none"/><text x="120.50" y="-11.90" font-size="13" text-anchor="start" fill="#000" stroke="#000" stroke-width="0.143" font-family="Liberation Serif, serif" font-style="italic">μ</text><text x="128.50" y="-9.40" font-size="9" text-anchor="start" fill="#000" stroke="#000" stroke-width="0.099" font-family="Liberation Serif, serif">1</text><text x="136.10" y="-9.20" font-size="9" text-anchor="start" fill="#000" stroke="#000" stroke-width="0.099" font-family="Liberation Serif, serif" font-style="italic">p</text><text x="120.70" y="10.30" font-size="13" text-anchor="start" fill="#000" stroke="#000" stroke-width="0.143" font-family="Liberation Serif, serif" font-style="italic">μ</text><text x="128.40" y="12.90" font-size="9" text-anchor="start" fill="#000" stroke="#000" stroke-width="0.099" font-family="Liberation Serif, serif">2</text><text x="136.10" y="12.70" font-size="9" text-anchor="start" fill="#000" stroke="#000" stroke-width="0.099" font-family="Liberation Serif, serif" font-style="italic">p</text></g>
</svg></body></html>
